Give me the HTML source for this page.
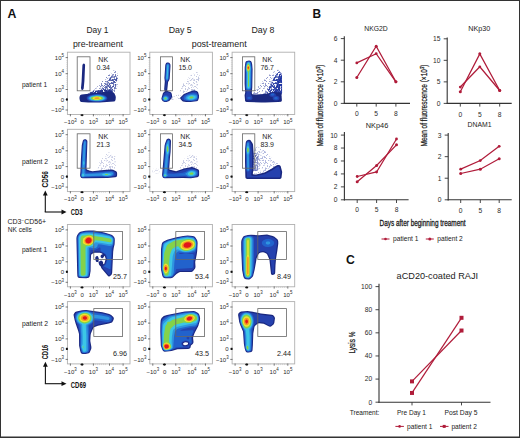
<!DOCTYPE html><html><head><meta charset="utf-8"><style>html,body{margin:0;padding:0;background:#fff}svg{display:block}text{font-family:"Liberation Sans",sans-serif}</style></head><body>
<svg width="520" height="438" viewBox="0 0 520 438">
<defs><filter id="bl" x="-20%" y="-20%" width="140%" height="140%"><feGaussianBlur stdDeviation="0.45"/></filter>
<filter id="spkA" x="0" y="0" width="100%" height="100%" filterUnits="userSpaceOnUse"><feTurbulence type="fractalNoise" baseFrequency="0.6" numOctaves="2" seed="3" result="n"/><feColorMatrix in="n" type="matrix" values="0 0 0 0 0  0 0 0 0 0  0 0 0 0 0  0 0 0 10 -5.2" result="m"/><feComposite in="SourceGraphic" in2="m" operator="in"/></filter>
<filter id="spkB" x="0" y="0" width="100%" height="100%" filterUnits="userSpaceOnUse"><feTurbulence type="fractalNoise" baseFrequency="0.6" numOctaves="2" seed="5" result="n"/><feColorMatrix in="n" type="matrix" values="0 0 0 0 0  0 0 0 0 0  0 0 0 0 0  0 0 0 10 -4.3" result="m"/><feComposite in="SourceGraphic" in2="m" operator="in"/></filter>
<filter id="spkC" x="0" y="0" width="100%" height="100%" filterUnits="userSpaceOnUse"><feTurbulence type="fractalNoise" baseFrequency="0.6" numOctaves="2" seed="7" result="n"/><feColorMatrix in="n" type="matrix" values="0 0 0 0 0  0 0 0 0 0  0 0 0 0 0  0 0 0 10 -3.2" result="m"/><feComposite in="SourceGraphic" in2="m" operator="in"/></filter>
</defs>
<rect x="0" y="0" width="520" height="438" fill="#fff"/>
<rect x="0.5" y="0.5" width="519" height="437" fill="none" stroke="#333" stroke-width="1"/>
<rect x="0" y="436.5" width="520" height="1.5" fill="#333"/>
<text x="7.4" y="18.1" font-size="12.6" text-anchor="start" font-weight="bold" fill="#111" textLength="8.9" lengthAdjust="spacingAndGlyphs" >A</text>
<text x="312.6" y="18.2" font-size="12.8" text-anchor="start" font-weight="bold" fill="#111" textLength="8.6" lengthAdjust="spacingAndGlyphs" >B</text>
<text x="346.1" y="263.9" font-size="12.4" text-anchor="start" font-weight="bold" fill="#111" textLength="8.8" lengthAdjust="spacingAndGlyphs" >C</text>
<text x="97.5" y="33" font-size="8.6" text-anchor="middle" font-weight="normal" fill="#222" textLength="22" lengthAdjust="spacingAndGlyphs" >Day 1</text>
<text x="180.2" y="33" font-size="8.6" text-anchor="middle" font-weight="normal" fill="#222" textLength="23" lengthAdjust="spacingAndGlyphs" >Day 5</text>
<text x="263" y="33" font-size="8.6" text-anchor="middle" font-weight="normal" fill="#222" textLength="23" lengthAdjust="spacingAndGlyphs" >Day 8</text>
<text x="98" y="47.4" font-size="8.6" text-anchor="middle" font-weight="normal" fill="#222" textLength="50" lengthAdjust="spacingAndGlyphs" >pre-treament</text>
<text x="219.2" y="47.4" font-size="8.6" text-anchor="middle" font-weight="normal" fill="#222" textLength="55" lengthAdjust="spacingAndGlyphs" >post-treament</text>
<text x="22" y="86.8" font-size="6.6" text-anchor="start" font-weight="normal" fill="#222" textLength="25" lengthAdjust="spacingAndGlyphs" >patient 1</text>
<text x="22" y="163.8" font-size="6.6" text-anchor="start" font-weight="normal" fill="#222" textLength="26" lengthAdjust="spacingAndGlyphs" >patient 2</text>
<text x="22" y="252.2" font-size="6.6" text-anchor="start" font-weight="normal" fill="#222" textLength="25" lengthAdjust="spacingAndGlyphs" >patient 1</text>
<text x="22" y="326" font-size="6.6" text-anchor="start" font-weight="normal" fill="#222" textLength="26" lengthAdjust="spacingAndGlyphs" >patient 2</text>
<text x="7.5" y="224.3" font-size="7" fill="#222">CD3<tspan font-size="4.5" dy="-2.5">−</tspan><tspan dy="2.5">CD56+</tspan></text>
<text x="7.8" y="232.4" font-size="7" text-anchor="start" font-weight="normal" fill="#222" textLength="24" lengthAdjust="spacingAndGlyphs" >NK cells</text>
<line x1="45.3" y1="194.5" x2="45.3" y2="212" stroke="#111" stroke-width="1.1"/>
<line x1="44.75" y1="212" x2="62.5" y2="212" stroke="#111" stroke-width="1.1"/>
<path d="M45.3,190.5 L42.9,195.5 L47.699999999999996,195.5 Z" fill="#111"/>
<path d="M66.5,212 L61.5,209.6 L61.5,214.4 Z" fill="#111"/>
<text transform="translate(47.7,179.3) rotate(-90)" x="0" y="0" font-size="8.6" font-weight="bold" fill="#111" text-anchor="middle" textLength="16.4" lengthAdjust="spacingAndGlyphs">CD56</text>
<text x="70.8" y="214.8" font-size="8.6" font-weight="bold" fill="#111" textLength="11.8" lengthAdjust="spacingAndGlyphs">CD3</text>
<line x1="45.4" y1="365.8" x2="45.4" y2="383.7" stroke="#111" stroke-width="1.1"/>
<line x1="44.85" y1="383.7" x2="62.5" y2="383.7" stroke="#111" stroke-width="1.1"/>
<path d="M45.4,361.8 L43.0,366.8 L47.8,366.8 Z" fill="#111"/>
<path d="M66.5,383.7 L61.5,381.3 L61.5,386.09999999999997 Z" fill="#111"/>
<text transform="translate(48.0,352) rotate(-90)" x="0" y="0" font-size="8.6" font-weight="bold" fill="#111" text-anchor="middle" textLength="14.6" lengthAdjust="spacingAndGlyphs">CD16</text>
<text x="70.8" y="387.5" font-size="8.6" font-weight="bold" fill="#111" textLength="15.2" lengthAdjust="spacingAndGlyphs">CD69</text>
<g transform="translate(68,53)">
<g opacity="0.6" filter="url(#spkA)"><path fill-rule="evenodd" fill="#2a3a98" d="M35.5,41.0 25.2,41.0 24.1,40.6 23.8,39.6 24.2,38.8 30.1,32.8 38.2,23.8 43.5,18.5 44.6,17.8 45.6,17.5 46.8,17.7 48.2,18.3 49.5,19.4 50.0,20.8 50.1,30.4 49.6,33.1 47.6,38.4 46.6,39.5 45.2,40.2 35.5,41.0Z"/></g>
<g opacity="0.7" filter="url(#spkB)"><path fill-rule="evenodd" fill="#2a3a98" d="M41.6,40.0 32.8,40.0 31.8,39.5 31.5,38.4 31.7,37.8 42.4,23.8 45.2,21.3 46.1,20.9 46.9,21.0 47.7,21.4 48.4,22.2 49.3,24.6 48.2,33.8 47.2,35.7 44.8,38.3 43.2,39.5 41.6,40.0Z"/></g>
<g opacity="0.9" filter="url(#spkC)"><path fill-rule="evenodd" fill="#1e2c8c" d="M22.0,42.6 20.4,42.7 19.8,42.4 19.5,41.8 19.8,41.0 22.9,38.7 25.4,37.8 34.0,37.0 42.0,36.9 43.9,37.5 44.5,38.0 44.8,38.6 44.8,39.2 44.4,39.8 43.1,40.4 22.0,42.6Z"/></g>
<path fill-rule="evenodd" fill="#1a2880" d="M14.5,37.0 13.9,37.0 13.4,36.6 13.0,35.1 13.6,28.5 14.4,12.2 14.9,10.9 15.9,10.5 16.7,11.0 17.1,12.1 16.4,28.1 15.7,35.5 15.2,36.5 14.5,37.0ZM31.8,49.4 20.2,49.4 13.2,48.9 12.3,48.4 11.8,47.2 11.4,45.1 11.7,43.2 12.4,42.0 13.8,41.4 41.0,38.4 42.5,38.5 44.9,39.2 45.9,39.7 46.5,40.4 47.6,43.1 47.8,44.4 47.5,47.0 46.8,48.2 45.8,48.5 31.8,49.4Z"/>
<path fill-rule="evenodd" fill="#2541ae" d="M31.1,48.8 24.6,48.6 20.5,47.8 19.5,47.0 18.9,46.2 18.7,45.4 18.8,44.4 19.8,43.2 21.7,42.1 25.1,41.4 29.2,41.1 32.2,41.2 35.4,41.8 37.5,42.7 38.9,43.9 39.3,44.9 39.2,45.9 38.8,46.6 38.0,47.4 35.4,48.2 31.1,48.8Z"/>
<path fill-rule="evenodd" fill="#2262cc" d="M29.4,48.5 25.1,48.3 22.1,47.7 20.9,47.0 20.0,46.2 19.6,45.5 19.7,44.6 20.8,43.5 22.9,42.5 25.9,41.8 29.0,41.6 32.1,41.8 35.1,42.5 37.2,43.5 38.3,44.6 38.4,45.4 38.1,46.1 37.4,46.8 36.2,47.5 33.5,48.2 29.4,48.5Z"/>
<path fill-rule="evenodd" fill="#2f95e0" d="M31.1,48.0 27.0,48.0 23.5,47.5 21.1,46.2 20.6,45.6 20.6,44.9 21.4,43.9 23.2,43.0 25.8,42.4 28.6,42.2 31.5,42.3 34.1,42.8 36.2,43.6 37.3,44.6 37.5,45.1 37.3,45.8 36.1,46.8 34.2,47.5 31.1,48.0Z"/>
<path fill-rule="evenodd" fill="#3cc6e6" d="M30.8,47.6 27.2,47.6 24.2,47.1 22.0,46.1 21.6,45.6 21.5,45.0 22.2,44.1 23.9,43.4 26.1,42.9 28.6,42.7 31.2,42.8 33.6,43.2 35.3,43.9 36.4,44.8 36.4,45.6 35.2,46.6 33.3,47.2 30.8,47.6Z"/>
<path fill-rule="evenodd" fill="#84d24a" d="M29.8,47.3 27.0,47.2 24.6,46.7 23.2,45.9 22.9,45.0 23.5,44.2 24.8,43.7 28.8,43.1 31.0,43.2 33.0,43.6 34.3,44.1 35.1,44.9 35.0,45.8 33.9,46.5 32.1,47.0 29.8,47.3Z"/>
<path fill-rule="evenodd" fill="#f0e42c" d="M29.8,46.8 27.8,46.7 26.0,46.4 24.8,45.8 24.6,45.0 25.0,44.5 26.1,44.0 28.9,43.6 31.8,44.0 32.8,44.4 33.4,44.9 33.4,45.5 32.6,46.1 29.8,46.8Z"/>
<path fill-rule="evenodd" fill="#f49a22" d="M30.1,46.1 27.5,46.1 26.5,45.6 26.3,45.1 27.0,44.5 28.8,44.2 30.5,44.3 31.6,44.9 31.7,45.2 31.5,45.6 30.1,46.1Z"/>
</g>
<rect x="67.4" y="52.2" width="62.6" height="62.3" fill="none" stroke="#b0b0b0" stroke-width="0.9"/>
<line x1="65.60000000000001" y1="57.6" x2="67.80000000000001" y2="57.6" stroke="#555" stroke-width="0.8"/>
<text x="64.0" y="59.7" font-size="6.0" text-anchor="end" fill="#2a2a2a">10<tspan font-size="4.4399999999999995" dy="-2.5">5</tspan></text>
<line x1="65.60000000000001" y1="73.7" x2="67.80000000000001" y2="73.7" stroke="#555" stroke-width="0.8"/>
<text x="64.0" y="75.8" font-size="6.0" text-anchor="end" fill="#2a2a2a">10<tspan font-size="4.4399999999999995" dy="-2.5">4</tspan></text>
<line x1="65.60000000000001" y1="89.5" x2="67.80000000000001" y2="89.5" stroke="#555" stroke-width="0.8"/>
<text x="64.0" y="91.6" font-size="6.0" text-anchor="end" fill="#2a2a2a">10<tspan font-size="4.4399999999999995" dy="-2.5">3</tspan></text>
<line x1="65.60000000000001" y1="99.5" x2="67.80000000000001" y2="99.5" stroke="#555" stroke-width="0.8"/>
<text x="64.0" y="101.6" font-size="6.0" text-anchor="end" font-weight="normal" fill="#2a2a2a" >0</text>
<line x1="65.60000000000001" y1="110.0" x2="67.80000000000001" y2="110.0" stroke="#555" stroke-width="0.8"/>
<text x="64.0" y="112.1" font-size="6.0" text-anchor="end" fill="#2a2a2a">−10<tspan font-size="4.4399999999999995" dy="-2.5">3</tspan></text>
<line x1="66.2" y1="60.7" x2="67.80000000000001" y2="60.7" stroke="#bbb" stroke-width="0.5"/>
<line x1="66.2" y1="62.7" x2="67.80000000000001" y2="62.7" stroke="#bbb" stroke-width="0.5"/>
<line x1="66.2" y1="64.7" x2="67.80000000000001" y2="64.7" stroke="#bbb" stroke-width="0.5"/>
<line x1="66.2" y1="66.7" x2="67.80000000000001" y2="66.7" stroke="#bbb" stroke-width="0.5"/>
<line x1="66.2" y1="68.7" x2="67.80000000000001" y2="68.7" stroke="#bbb" stroke-width="0.5"/>
<line x1="66.2" y1="70.7" x2="67.80000000000001" y2="70.7" stroke="#bbb" stroke-width="0.5"/>
<line x1="66.2" y1="76.7" x2="67.80000000000001" y2="76.7" stroke="#bbb" stroke-width="0.5"/>
<line x1="66.2" y1="78.7" x2="67.80000000000001" y2="78.7" stroke="#bbb" stroke-width="0.5"/>
<line x1="66.2" y1="80.7" x2="67.80000000000001" y2="80.7" stroke="#bbb" stroke-width="0.5"/>
<line x1="66.2" y1="82.7" x2="67.80000000000001" y2="82.7" stroke="#bbb" stroke-width="0.5"/>
<line x1="66.2" y1="84.7" x2="67.80000000000001" y2="84.7" stroke="#bbb" stroke-width="0.5"/>
<line x1="66.2" y1="86.7" x2="67.80000000000001" y2="86.7" stroke="#bbb" stroke-width="0.5"/>
<line x1="70.4" y1="114.1" x2="70.4" y2="116.3" stroke="#555" stroke-width="0.8"/>
<text x="70.4" y="124.2" font-size="6.0" text-anchor="middle" fill="#2a2a2a">−10<tspan font-size="4.4399999999999995" dy="-2.5">3</tspan></text>
<line x1="82.2" y1="114.1" x2="82.2" y2="116.3" stroke="#555" stroke-width="0.8"/>
<text x="82.2" y="124.2" font-size="6.0" text-anchor="middle" font-weight="normal" fill="#2a2a2a" >0</text>
<line x1="93.4" y1="114.1" x2="93.4" y2="116.3" stroke="#555" stroke-width="0.8"/>
<text x="93.4" y="124.2" font-size="6.0" text-anchor="middle" fill="#2a2a2a">10<tspan font-size="4.4399999999999995" dy="-2.5">3</tspan></text>
<line x1="109.5" y1="114.1" x2="109.5" y2="116.3" stroke="#555" stroke-width="0.8"/>
<text x="109.5" y="124.2" font-size="6.0" text-anchor="middle" fill="#2a2a2a">10<tspan font-size="4.4399999999999995" dy="-2.5">4</tspan></text>
<line x1="123.10000000000001" y1="114.1" x2="123.10000000000001" y2="116.3" stroke="#555" stroke-width="0.8"/>
<text x="123.10000000000001" y="124.2" font-size="6.0" text-anchor="middle" fill="#2a2a2a">10<tspan font-size="4.4399999999999995" dy="-2.5">5</tspan></text>
<line x1="95.4" y1="114.1" x2="95.4" y2="115.7" stroke="#bbb" stroke-width="0.5"/>
<line x1="97.4" y1="114.1" x2="97.4" y2="115.7" stroke="#bbb" stroke-width="0.5"/>
<line x1="99.4" y1="114.1" x2="99.4" y2="115.7" stroke="#bbb" stroke-width="0.5"/>
<line x1="101.4" y1="114.1" x2="101.4" y2="115.7" stroke="#bbb" stroke-width="0.5"/>
<line x1="103.4" y1="114.1" x2="103.4" y2="115.7" stroke="#bbb" stroke-width="0.5"/>
<line x1="105.4" y1="114.1" x2="105.4" y2="115.7" stroke="#bbb" stroke-width="0.5"/>
<line x1="111.9" y1="114.1" x2="111.9" y2="115.7" stroke="#bbb" stroke-width="0.5"/>
<line x1="113.9" y1="114.1" x2="113.9" y2="115.7" stroke="#bbb" stroke-width="0.5"/>
<line x1="115.9" y1="114.1" x2="115.9" y2="115.7" stroke="#bbb" stroke-width="0.5"/>
<line x1="117.9" y1="114.1" x2="117.9" y2="115.7" stroke="#bbb" stroke-width="0.5"/>
<line x1="119.9" y1="114.1" x2="119.9" y2="115.7" stroke="#bbb" stroke-width="0.5"/>
<line x1="121.9" y1="114.1" x2="121.9" y2="115.7" stroke="#bbb" stroke-width="0.5"/>
<rect x="66.0" y="98.4" width="1.8" height="2.2" fill="#111"/>
<ellipse cx="82.0" cy="115.1" rx="1.6" ry="0.9" fill="#111"/>
<g transform="translate(150,53)">
<g opacity="0.6" filter="url(#spkA)"><path fill-rule="evenodd" fill="#9aa2cc" d="M40.8,40.0 30.5,40.0 29.4,39.4 29.1,38.1 33.0,31.1 39.0,24.1 41.0,22.3 45.1,19.3 46.1,18.9 47.1,18.9 48.0,19.5 48.9,20.5 49.6,21.8 49.8,22.9 48.2,34.6 47.4,36.1 46.0,37.4 42.9,39.4 40.8,40.0Z"/></g>
<g opacity="0.6" filter="url(#spkA)"><path fill-rule="evenodd" fill="#a0a8d0" d="M30.0,47.0 22.2,47.1 21.5,46.9 20.6,46.3 20.1,45.5 19.9,44.2 20.2,43.2 20.6,42.5 21.4,41.9 24.1,41.3 26.9,41.1 30.2,41.7 31.6,42.8 32.0,43.8 32.1,44.8 31.5,46.2 30.0,47.0Z"/></g>
<path fill-rule="evenodd" fill="#1a2880" d="M16.4,49.0 14.6,49.0 12.9,48.3 11.8,47.0 11.4,45.4 12.9,40.2 13.4,39.6 14.8,38.4 14.3,37.1 14.2,36.1 14.8,28.4 14.4,25.0 15.3,11.9 15.6,10.9 16.2,10.1 17.0,9.6 18.0,9.5 19.1,9.8 19.9,10.5 20.4,11.5 20.5,12.9 19.7,25.6 19.3,27.1 18.1,29.0 17.2,37.5 17.6,38.0 20.4,39.1 21.3,39.8 21.8,41.0 22.1,43.5 21.6,44.9 19.8,47.4 18.6,48.2 16.4,49.0ZM40.4,49.1 36.1,48.9 32.9,48.4 32.0,47.8 30.5,46.0 30.3,45.2 30.4,44.4 33.9,40.9 39.4,38.7 43.9,37.2 45.1,37.4 47.2,38.3 48.2,39.4 49.1,42.8 48.9,45.0 48.1,47.2 47.5,47.9 46.5,48.3 40.4,49.1Z"/>
<path fill-rule="evenodd" fill="#2541ae" d="M16.0,36.8 15.5,36.7 15.4,36.1 16.0,28.6 15.1,25.5 15.9,13.0 16.1,11.8 16.5,10.9 17.1,10.4 18.0,10.2 19.2,10.9 19.8,12.2 19.1,24.1 18.7,26.6 16.9,28.9 16.3,36.0 16.0,36.8ZM41.6,48.3 38.4,48.3 33.5,47.5 32.7,47.0 31.8,45.9 31.4,45.2 31.5,44.8 34.2,41.9 38.0,40.3 43.6,38.4 44.6,38.4 46.4,39.0 47.2,39.9 48.2,42.8 48.2,44.4 47.6,46.4 47.1,47.0 46.4,47.4 41.6,48.3ZM16.2,48.4 14.8,48.4 13.3,47.8 12.4,46.6 12.1,45.2 14.0,40.5 14.6,39.9 15.9,39.4 17.2,39.1 19.8,39.9 20.4,40.4 20.7,41.1 21.0,43.5 20.6,44.5 19.0,46.9 17.9,47.7 16.2,48.4Z"/>
<path fill-rule="evenodd" fill="#2262cc" d="M17.0,27.7 16.4,27.6 15.8,26.9 15.5,26.0 15.5,24.9 16.3,12.2 16.9,11.0 18.0,10.6 19.0,11.1 19.4,12.1 19.2,17.6 18.5,25.9 18.0,27.0 17.0,27.7ZM41.5,47.9 37.6,47.8 35.9,47.5 34.3,46.9 33.7,45.6 33.9,44.0 34.8,42.9 35.8,42.1 39.9,40.4 43.4,40.0 46.5,40.6 47.5,42.0 47.8,43.2 47.6,44.9 47.0,46.4 46.4,46.9 45.5,47.2 41.5,47.9ZM15.8,48.1 14.6,48.0 13.6,47.6 12.9,46.8 12.5,45.9 12.5,44.9 13.1,43.7 14.1,42.5 14.9,42.2 16.2,42.2 17.6,42.7 18.7,43.6 19.2,44.8 19.0,46.0 18.4,46.9 17.0,47.8 15.8,48.1Z"/>
<path fill-rule="evenodd" fill="#2f95e0" d="M17.2,26.8 16.8,26.8 16.2,26.4 16.0,25.0 16.8,12.6 17.1,11.6 17.9,11.2 18.7,11.8 18.9,13.0 18.1,25.2 17.8,26.2 17.2,26.8ZM41.9,47.3 39.2,47.3 36.8,46.8 35.5,45.8 35.4,45.1 35.6,44.4 36.2,43.5 37.4,42.6 40.5,41.5 44.0,41.4 45.5,41.7 46.5,42.3 47.0,43.0 47.1,43.9 46.9,44.9 46.4,45.7 44.8,46.6 41.9,47.3ZM16.0,47.6 14.2,47.4 13.5,46.8 13.1,46.1 13.0,45.4 13.2,44.5 13.8,43.8 14.5,43.3 15.6,43.1 16.6,43.3 17.6,44.0 18.1,44.9 18.2,45.8 17.9,46.5 17.0,47.2 16.0,47.6Z"/>
<path fill-rule="evenodd" fill="#3cc6e6" d="M17.1,25.7 16.8,25.4 16.7,24.5 17.5,13.1 17.6,12.5 17.9,12.3 18.2,13.0 17.9,18.7 17.4,24.9 17.1,25.7ZM41.2,46.6 39.2,46.5 37.8,46.0 37.2,45.1 37.5,44.1 39.1,42.9 41.5,42.3 43.9,42.4 45.5,43.2 45.8,44.3 45.0,45.4 43.4,46.2 41.2,46.6ZM16.0,47.1 14.6,47.0 13.7,46.1 13.6,45.0 14.5,44.0 16.1,43.9 16.9,44.2 17.4,44.9 17.5,45.6 17.3,46.2 16.8,46.8 16.0,47.1Z"/>
<path fill-rule="evenodd" fill="#84d24a" d="M41.4,45.6 40.4,45.5 39.8,45.2 39.5,44.8 39.8,44.1 40.5,43.6 41.6,43.4 42.6,43.5 43.3,43.9 43.5,44.4 43.1,45.0 41.4,45.6ZM15.6,46.5 14.8,46.3 14.4,45.6 14.6,44.9 15.2,44.5 16.1,44.6 16.6,45.4 16.4,46.1 15.6,46.5Z"/>
</g>
<rect x="149.8" y="52.2" width="62.6" height="62.3" fill="none" stroke="#b0b0b0" stroke-width="0.9"/>
<line x1="148.0" y1="57.6" x2="150.20000000000002" y2="57.6" stroke="#555" stroke-width="0.8"/>
<text x="146.4" y="59.7" font-size="6.0" text-anchor="end" fill="#2a2a2a">10<tspan font-size="4.4399999999999995" dy="-2.5">5</tspan></text>
<line x1="148.0" y1="73.7" x2="150.20000000000002" y2="73.7" stroke="#555" stroke-width="0.8"/>
<text x="146.4" y="75.8" font-size="6.0" text-anchor="end" fill="#2a2a2a">10<tspan font-size="4.4399999999999995" dy="-2.5">4</tspan></text>
<line x1="148.0" y1="89.5" x2="150.20000000000002" y2="89.5" stroke="#555" stroke-width="0.8"/>
<text x="146.4" y="91.6" font-size="6.0" text-anchor="end" fill="#2a2a2a">10<tspan font-size="4.4399999999999995" dy="-2.5">3</tspan></text>
<line x1="148.0" y1="99.5" x2="150.20000000000002" y2="99.5" stroke="#555" stroke-width="0.8"/>
<text x="146.4" y="101.6" font-size="6.0" text-anchor="end" font-weight="normal" fill="#2a2a2a" >0</text>
<line x1="148.0" y1="110.0" x2="150.20000000000002" y2="110.0" stroke="#555" stroke-width="0.8"/>
<text x="146.4" y="112.1" font-size="6.0" text-anchor="end" fill="#2a2a2a">−10<tspan font-size="4.4399999999999995" dy="-2.5">3</tspan></text>
<line x1="148.60000000000002" y1="60.7" x2="150.20000000000002" y2="60.7" stroke="#bbb" stroke-width="0.5"/>
<line x1="148.60000000000002" y1="62.7" x2="150.20000000000002" y2="62.7" stroke="#bbb" stroke-width="0.5"/>
<line x1="148.60000000000002" y1="64.7" x2="150.20000000000002" y2="64.7" stroke="#bbb" stroke-width="0.5"/>
<line x1="148.60000000000002" y1="66.7" x2="150.20000000000002" y2="66.7" stroke="#bbb" stroke-width="0.5"/>
<line x1="148.60000000000002" y1="68.7" x2="150.20000000000002" y2="68.7" stroke="#bbb" stroke-width="0.5"/>
<line x1="148.60000000000002" y1="70.7" x2="150.20000000000002" y2="70.7" stroke="#bbb" stroke-width="0.5"/>
<line x1="148.60000000000002" y1="76.7" x2="150.20000000000002" y2="76.7" stroke="#bbb" stroke-width="0.5"/>
<line x1="148.60000000000002" y1="78.7" x2="150.20000000000002" y2="78.7" stroke="#bbb" stroke-width="0.5"/>
<line x1="148.60000000000002" y1="80.7" x2="150.20000000000002" y2="80.7" stroke="#bbb" stroke-width="0.5"/>
<line x1="148.60000000000002" y1="82.7" x2="150.20000000000002" y2="82.7" stroke="#bbb" stroke-width="0.5"/>
<line x1="148.60000000000002" y1="84.7" x2="150.20000000000002" y2="84.7" stroke="#bbb" stroke-width="0.5"/>
<line x1="148.60000000000002" y1="86.7" x2="150.20000000000002" y2="86.7" stroke="#bbb" stroke-width="0.5"/>
<line x1="152.8" y1="114.1" x2="152.8" y2="116.3" stroke="#555" stroke-width="0.8"/>
<text x="152.8" y="124.2" font-size="6.0" text-anchor="middle" fill="#2a2a2a">−10<tspan font-size="4.4399999999999995" dy="-2.5">3</tspan></text>
<line x1="164.60000000000002" y1="114.1" x2="164.60000000000002" y2="116.3" stroke="#555" stroke-width="0.8"/>
<text x="164.60000000000002" y="124.2" font-size="6.0" text-anchor="middle" font-weight="normal" fill="#2a2a2a" >0</text>
<line x1="175.8" y1="114.1" x2="175.8" y2="116.3" stroke="#555" stroke-width="0.8"/>
<text x="175.8" y="124.2" font-size="6.0" text-anchor="middle" fill="#2a2a2a">10<tspan font-size="4.4399999999999995" dy="-2.5">3</tspan></text>
<line x1="191.9" y1="114.1" x2="191.9" y2="116.3" stroke="#555" stroke-width="0.8"/>
<text x="191.9" y="124.2" font-size="6.0" text-anchor="middle" fill="#2a2a2a">10<tspan font-size="4.4399999999999995" dy="-2.5">4</tspan></text>
<line x1="205.5" y1="114.1" x2="205.5" y2="116.3" stroke="#555" stroke-width="0.8"/>
<text x="205.5" y="124.2" font-size="6.0" text-anchor="middle" fill="#2a2a2a">10<tspan font-size="4.4399999999999995" dy="-2.5">5</tspan></text>
<line x1="177.8" y1="114.1" x2="177.8" y2="115.7" stroke="#bbb" stroke-width="0.5"/>
<line x1="179.8" y1="114.1" x2="179.8" y2="115.7" stroke="#bbb" stroke-width="0.5"/>
<line x1="181.8" y1="114.1" x2="181.8" y2="115.7" stroke="#bbb" stroke-width="0.5"/>
<line x1="183.8" y1="114.1" x2="183.8" y2="115.7" stroke="#bbb" stroke-width="0.5"/>
<line x1="185.8" y1="114.1" x2="185.8" y2="115.7" stroke="#bbb" stroke-width="0.5"/>
<line x1="187.8" y1="114.1" x2="187.8" y2="115.7" stroke="#bbb" stroke-width="0.5"/>
<line x1="194.3" y1="114.1" x2="194.3" y2="115.7" stroke="#bbb" stroke-width="0.5"/>
<line x1="196.3" y1="114.1" x2="196.3" y2="115.7" stroke="#bbb" stroke-width="0.5"/>
<line x1="198.3" y1="114.1" x2="198.3" y2="115.7" stroke="#bbb" stroke-width="0.5"/>
<line x1="200.3" y1="114.1" x2="200.3" y2="115.7" stroke="#bbb" stroke-width="0.5"/>
<line x1="202.3" y1="114.1" x2="202.3" y2="115.7" stroke="#bbb" stroke-width="0.5"/>
<line x1="204.3" y1="114.1" x2="204.3" y2="115.7" stroke="#bbb" stroke-width="0.5"/>
<rect x="148.4" y="98.4" width="1.8" height="2.2" fill="#111"/>
<ellipse cx="164.4" cy="115.1" rx="1.6" ry="0.9" fill="#111"/>
<g transform="translate(232,53)">
<g opacity="0.55" filter="url(#spkA)"><path fill-rule="evenodd" fill="#3a4aa8" d="M40.0,45.0 21.9,44.2 20.5,43.6 20.2,42.4 20.3,41.8 22.7,38.0 24.9,34.9 30.1,28.9 36.4,22.5 38.1,21.0 40.0,19.8 45.0,17.1 46.5,16.8 47.4,17.3 48.1,18.2 49.5,21.0 50.0,22.8 50.0,42.2 49.3,43.5 48.0,44.2 40.0,45.0Z"/></g>
<g opacity="0.85" filter="url(#spkB)"><path fill-rule="evenodd" fill="#1e32a0" d="M41.9,42.9 39.2,42.9 35.2,42.3 34.1,41.5 33.9,40.9 33.9,40.0 42.0,24.1 45.5,19.8 46.6,19.1 47.8,19.1 49.3,20.1 50.0,21.9 50.0,40.2 49.4,41.5 48.2,42.2 41.9,42.9Z"/></g>
<g opacity="0.85" filter="url(#spkC)"><path fill-rule="evenodd" fill="#1e32a0" d="M48.0,42.0 44.6,42.1 43.6,41.8 42.7,41.0 42.5,39.8 44.9,30.2 47.1,22.6 47.8,21.5 48.8,21.1 49.6,21.6 50.0,22.9 50.1,39.8 49.5,41.2 48.0,42.0Z"/></g>
<path fill-rule="evenodd" fill="#1a2880" d="M33.4,49.4 29.2,49.5 14.8,49.0 13.8,48.7 13.1,48.0 12.6,42.2 13.2,39.6 12.6,30.8 12.7,14.2 13.4,9.5 13.9,8.5 14.8,7.9 17.1,7.5 18.8,7.9 19.6,9.0 20.2,11.5 20.6,16.2 20.3,33.9 19.8,40.0 20.1,40.9 20.5,41.2 24.1,41.5 32.0,41.1 36.5,40.2 39.6,39.3 42.1,39.0 47.9,39.4 48.8,39.8 49.4,40.5 49.9,47.2 49.7,48.1 49.1,48.8 46.2,49.1 33.4,49.4Z"/>
<path fill-rule="evenodd" fill="#2541ae" d="M18.0,47.3 16.6,47.3 15.1,47.0 14.6,46.8 14.2,46.0 13.9,42.2 14.4,40.1 14.3,38.0 13.5,33.8 13.4,13.2 14.0,10.2 14.4,9.2 15.2,8.5 16.8,8.2 18.1,8.5 18.9,9.4 19.8,15.0 19.5,33.9 18.7,37.9 18.5,40.2 18.9,41.8 19.9,43.0 20.5,45.1 20.3,45.9 19.8,46.5 18.0,47.3ZM45.1,47.5 42.7,47.5 41.5,47.1 40.7,46.0 40.7,44.1 38.9,43.7 38.0,43.2 37.3,42.2 37.5,41.6 38.7,40.5 40.2,40.0 42.1,40.1 43.7,40.9 43.8,42.5 46.2,43.2 47.0,43.8 47.4,44.5 47.4,45.6 47.1,46.5 46.2,47.2 45.1,47.5Z"/>
<path fill-rule="evenodd" fill="#2262cc" d="M16.5,37.4 14.9,36.9 14.2,35.9 13.9,34.6 13.9,19.2 13.6,14.8 13.8,12.6 14.6,9.6 15.5,8.8 16.9,8.5 17.8,8.7 18.3,9.1 19.0,11.0 19.4,15.0 19.4,24.8 19.0,35.0 18.6,36.1 18.0,37.0 16.5,37.4ZM40.6,42.8 39.8,42.6 39.1,42.3 38.8,41.8 38.8,41.2 39.4,40.8 40.2,40.5 41.1,40.5 41.9,40.8 42.3,41.4 42.1,42.0 41.5,42.5 40.6,42.8ZM17.6,46.0 16.6,46.1 15.7,45.8 15.2,45.1 15.3,44.4 16.6,43.7 17.6,43.8 18.2,44.1 18.7,44.6 18.7,45.2 18.3,45.8 17.6,46.0ZM44.6,46.5 43.4,46.5 42.4,46.0 42.1,45.1 42.4,44.4 43.1,44.0 44.0,43.8 44.9,44.0 45.6,44.4 45.9,45.0 45.8,45.6 45.4,46.2 44.6,46.5Z"/>
<path fill-rule="evenodd" fill="#2f95e0" d="M17.0,36.3 16.0,36.3 15.2,35.9 14.8,35.3 14.5,34.4 14.5,19.6 13.9,15.0 14.1,12.9 15.0,10.0 15.6,9.3 16.8,9.0 17.7,9.2 18.2,10.0 19.0,15.1 18.6,34.0 18.1,35.5 17.0,36.3Z"/>
<path fill-rule="evenodd" fill="#3cc6e6" d="M16.8,35.4 15.6,35.1 15.1,33.9 15.1,19.8 14.4,16.8 14.2,14.9 14.5,12.9 15.3,10.5 15.9,9.8 16.6,9.5 17.4,9.8 17.7,10.4 18.5,15.0 18.1,18.9 17.9,33.6 17.6,34.9 16.8,35.4Z"/>
<path fill-rule="evenodd" fill="#84d24a" d="M16.5,33.9 16.1,33.5 16.0,32.9 16.1,19.8 14.9,17.1 14.6,14.9 15.1,12.2 15.9,10.8 16.5,10.4 17.0,10.8 17.6,12.2 18.1,14.9 17.9,16.5 17.1,19.4 17.0,33.0 16.8,33.6 16.5,33.9Z"/>
<path fill-rule="evenodd" fill="#f0e42c" d="M16.6,17.6 16.0,17.7 15.5,17.3 14.9,15.2 15.2,12.9 15.8,12.1 16.2,11.9 16.8,12.1 17.2,12.7 17.7,14.5 17.5,16.4 16.6,17.6Z"/>
<path fill-rule="evenodd" fill="#f49a22" d="M16.2,16.9 15.5,16.3 15.2,14.9 15.5,13.3 16.2,12.7 17.0,13.3 17.3,14.8 17.0,16.2 16.2,16.9Z"/>
<path fill-rule="evenodd" fill="#e3161a" d="M16.4,15.8 15.9,15.6 15.7,14.9 15.9,14.0 16.2,13.8 16.6,14.1 16.8,14.6 16.7,15.4 16.4,15.8Z"/>
</g>
<rect x="232.1" y="52.2" width="62.6" height="62.3" fill="none" stroke="#b0b0b0" stroke-width="0.9"/>
<line x1="230.29999999999998" y1="57.6" x2="232.5" y2="57.6" stroke="#555" stroke-width="0.8"/>
<text x="228.7" y="59.7" font-size="6.0" text-anchor="end" fill="#2a2a2a">10<tspan font-size="4.4399999999999995" dy="-2.5">5</tspan></text>
<line x1="230.29999999999998" y1="73.7" x2="232.5" y2="73.7" stroke="#555" stroke-width="0.8"/>
<text x="228.7" y="75.8" font-size="6.0" text-anchor="end" fill="#2a2a2a">10<tspan font-size="4.4399999999999995" dy="-2.5">4</tspan></text>
<line x1="230.29999999999998" y1="89.5" x2="232.5" y2="89.5" stroke="#555" stroke-width="0.8"/>
<text x="228.7" y="91.6" font-size="6.0" text-anchor="end" fill="#2a2a2a">10<tspan font-size="4.4399999999999995" dy="-2.5">3</tspan></text>
<line x1="230.29999999999998" y1="99.5" x2="232.5" y2="99.5" stroke="#555" stroke-width="0.8"/>
<text x="228.7" y="101.6" font-size="6.0" text-anchor="end" font-weight="normal" fill="#2a2a2a" >0</text>
<line x1="230.29999999999998" y1="110.0" x2="232.5" y2="110.0" stroke="#555" stroke-width="0.8"/>
<text x="228.7" y="112.1" font-size="6.0" text-anchor="end" fill="#2a2a2a">−10<tspan font-size="4.4399999999999995" dy="-2.5">3</tspan></text>
<line x1="230.9" y1="60.7" x2="232.5" y2="60.7" stroke="#bbb" stroke-width="0.5"/>
<line x1="230.9" y1="62.7" x2="232.5" y2="62.7" stroke="#bbb" stroke-width="0.5"/>
<line x1="230.9" y1="64.7" x2="232.5" y2="64.7" stroke="#bbb" stroke-width="0.5"/>
<line x1="230.9" y1="66.7" x2="232.5" y2="66.7" stroke="#bbb" stroke-width="0.5"/>
<line x1="230.9" y1="68.7" x2="232.5" y2="68.7" stroke="#bbb" stroke-width="0.5"/>
<line x1="230.9" y1="70.7" x2="232.5" y2="70.7" stroke="#bbb" stroke-width="0.5"/>
<line x1="230.9" y1="76.7" x2="232.5" y2="76.7" stroke="#bbb" stroke-width="0.5"/>
<line x1="230.9" y1="78.7" x2="232.5" y2="78.7" stroke="#bbb" stroke-width="0.5"/>
<line x1="230.9" y1="80.7" x2="232.5" y2="80.7" stroke="#bbb" stroke-width="0.5"/>
<line x1="230.9" y1="82.7" x2="232.5" y2="82.7" stroke="#bbb" stroke-width="0.5"/>
<line x1="230.9" y1="84.7" x2="232.5" y2="84.7" stroke="#bbb" stroke-width="0.5"/>
<line x1="230.9" y1="86.7" x2="232.5" y2="86.7" stroke="#bbb" stroke-width="0.5"/>
<line x1="235.1" y1="114.1" x2="235.1" y2="116.3" stroke="#555" stroke-width="0.8"/>
<text x="235.1" y="124.2" font-size="6.0" text-anchor="middle" fill="#2a2a2a">−10<tspan font-size="4.4399999999999995" dy="-2.5">3</tspan></text>
<line x1="246.9" y1="114.1" x2="246.9" y2="116.3" stroke="#555" stroke-width="0.8"/>
<text x="246.9" y="124.2" font-size="6.0" text-anchor="middle" font-weight="normal" fill="#2a2a2a" >0</text>
<line x1="258.1" y1="114.1" x2="258.1" y2="116.3" stroke="#555" stroke-width="0.8"/>
<text x="258.1" y="124.2" font-size="6.0" text-anchor="middle" fill="#2a2a2a">10<tspan font-size="4.4399999999999995" dy="-2.5">3</tspan></text>
<line x1="274.2" y1="114.1" x2="274.2" y2="116.3" stroke="#555" stroke-width="0.8"/>
<text x="274.2" y="124.2" font-size="6.0" text-anchor="middle" fill="#2a2a2a">10<tspan font-size="4.4399999999999995" dy="-2.5">4</tspan></text>
<line x1="287.8" y1="114.1" x2="287.8" y2="116.3" stroke="#555" stroke-width="0.8"/>
<text x="287.8" y="124.2" font-size="6.0" text-anchor="middle" fill="#2a2a2a">10<tspan font-size="4.4399999999999995" dy="-2.5">5</tspan></text>
<line x1="260.1" y1="114.1" x2="260.1" y2="115.7" stroke="#bbb" stroke-width="0.5"/>
<line x1="262.1" y1="114.1" x2="262.1" y2="115.7" stroke="#bbb" stroke-width="0.5"/>
<line x1="264.1" y1="114.1" x2="264.1" y2="115.7" stroke="#bbb" stroke-width="0.5"/>
<line x1="266.1" y1="114.1" x2="266.1" y2="115.7" stroke="#bbb" stroke-width="0.5"/>
<line x1="268.1" y1="114.1" x2="268.1" y2="115.7" stroke="#bbb" stroke-width="0.5"/>
<line x1="270.1" y1="114.1" x2="270.1" y2="115.7" stroke="#bbb" stroke-width="0.5"/>
<line x1="276.6" y1="114.1" x2="276.6" y2="115.7" stroke="#bbb" stroke-width="0.5"/>
<line x1="278.6" y1="114.1" x2="278.6" y2="115.7" stroke="#bbb" stroke-width="0.5"/>
<line x1="280.6" y1="114.1" x2="280.6" y2="115.7" stroke="#bbb" stroke-width="0.5"/>
<line x1="282.6" y1="114.1" x2="282.6" y2="115.7" stroke="#bbb" stroke-width="0.5"/>
<line x1="284.6" y1="114.1" x2="284.6" y2="115.7" stroke="#bbb" stroke-width="0.5"/>
<line x1="286.6" y1="114.1" x2="286.6" y2="115.7" stroke="#bbb" stroke-width="0.5"/>
<rect x="230.7" y="98.4" width="1.8" height="2.2" fill="#111"/>
<ellipse cx="246.7" cy="115.1" rx="1.6" ry="0.9" fill="#111"/>
<g transform="translate(68,130)">
<g opacity="0.6" filter="url(#spkA)"><path fill-rule="evenodd" fill="#a8aed4" d="M41.0,41.0 30.4,41.0 29.1,40.4 28.7,39.1 31.3,31.9 32.4,29.8 38.6,23.4 39.8,22.6 41.0,22.4 45.2,23.5 46.2,24.1 46.9,25.0 47.2,26.2 47.9,36.0 47.5,37.6 46.5,38.8 43.2,40.4 41.0,41.0Z"/></g>
<path fill-rule="evenodd" fill="#1a2880" d="M18.0,48.3 14.8,48.3 13.4,48.0 12.5,47.0 12.1,45.2 12.4,42.1 12.9,29.2 13.8,15.1 14.9,10.4 15.8,9.4 16.9,9.2 17.9,9.3 18.7,9.9 19.2,10.6 19.4,11.6 18.5,38.8 18.8,39.5 22.0,40.7 24.4,41.3 35.9,39.9 43.8,39.5 45.0,39.8 48.1,41.3 48.8,42.0 49.1,43.2 49.1,45.2 48.9,46.2 48.3,46.9 47.2,47.3 39.6,48.1 18.0,48.3Z"/>
<path fill-rule="evenodd" fill="#2541ae" d="M15.4,47.6 14.2,47.6 13.4,47.1 12.9,46.2 12.7,45.1 13.2,42.4 13.7,29.0 14.5,15.4 15.5,11.0 16.1,10.2 17.0,10.0 18.2,10.5 18.6,11.9 17.6,38.8 17.8,39.8 18.2,40.6 18.8,41.0 21.0,41.7 24.2,42.3 36.9,41.1 44.0,40.7 45.6,41.2 47.5,42.4 47.8,43.1 47.8,45.2 47.2,46.0 40.2,47.2 33.4,47.2 15.4,47.6Z"/>
<path fill-rule="evenodd" fill="#2262cc" d="M15.6,47.3 14.5,47.3 13.7,47.0 13.2,46.2 13.0,45.1 13.6,42.5 14.1,29.0 14.9,15.5 15.8,11.4 16.2,10.6 17.0,10.4 17.9,10.9 18.3,12.1 17.2,38.8 17.8,42.5 18.6,42.8 24.6,42.8 43.6,41.3 44.8,41.5 45.6,42.1 46.1,42.9 46.3,44.0 46.0,45.0 45.2,45.8 43.4,46.3 40.6,46.8 33.2,46.6 17.2,47.0 15.6,47.3Z"/>
<path fill-rule="evenodd" fill="#2f95e0" d="M15.0,46.9 13.8,46.5 13.4,45.2 14.3,42.5 14.5,32.6 15.5,15.9 16.2,12.0 16.5,11.4 17.0,11.1 17.5,11.5 17.7,12.4 16.9,29.5 17.0,33.5 16.6,37.0 16.5,42.4 16.9,43.5 18.0,43.9 24.4,43.8 32.6,43.3 37.0,42.7 43.4,42.3 44.6,42.7 45.1,43.8 44.7,44.6 43.7,45.4 42.4,45.9 40.2,46.2 37.1,46.3 33.0,45.8 17.2,46.3 15.0,46.9Z"/>
<path fill-rule="evenodd" fill="#3cc6e6" d="M15.8,35.0 15.4,34.7 15.1,33.0 15.3,31.8 15.8,31.0 16.2,31.8 16.4,33.0 16.2,34.1 15.8,35.0ZM39.1,45.8 35.9,45.5 34.6,45.0 34.2,44.5 34.4,44.1 35.4,43.7 37.8,43.2 41.1,43.4 43.1,43.9 42.9,44.5 42.1,45.1 39.1,45.8ZM15.1,46.4 14.2,46.2 13.8,45.4 14.2,44.3 15.1,43.6 15.8,44.1 16.4,45.2 16.0,45.9 15.1,46.4Z"/>
<path fill-rule="evenodd" fill="#84d24a" d="M39.2,45.0 37.7,45.0 36.9,44.5 37.3,44.1 38.4,43.9 39.4,44.0 40.1,44.4 40.0,44.8 39.2,45.0ZM15.0,45.6 14.6,45.6 14.6,45.1 15.0,45.1 15.0,45.6Z"/>
</g>
<rect x="67.4" y="129.3" width="62.6" height="62.3" fill="none" stroke="#b0b0b0" stroke-width="0.9"/>
<line x1="65.60000000000001" y1="134.70000000000002" x2="67.80000000000001" y2="134.70000000000002" stroke="#555" stroke-width="0.8"/>
<text x="64.0" y="136.8" font-size="6.0" text-anchor="end" fill="#2a2a2a">10<tspan font-size="4.4399999999999995" dy="-2.5">5</tspan></text>
<line x1="65.60000000000001" y1="150.8" x2="67.80000000000001" y2="150.8" stroke="#555" stroke-width="0.8"/>
<text x="64.0" y="152.9" font-size="6.0" text-anchor="end" fill="#2a2a2a">10<tspan font-size="4.4399999999999995" dy="-2.5">4</tspan></text>
<line x1="65.60000000000001" y1="166.60000000000002" x2="67.80000000000001" y2="166.60000000000002" stroke="#555" stroke-width="0.8"/>
<text x="64.0" y="168.70000000000002" font-size="6.0" text-anchor="end" fill="#2a2a2a">10<tspan font-size="4.4399999999999995" dy="-2.5">3</tspan></text>
<line x1="65.60000000000001" y1="176.60000000000002" x2="67.80000000000001" y2="176.60000000000002" stroke="#555" stroke-width="0.8"/>
<text x="64.0" y="178.70000000000002" font-size="6.0" text-anchor="end" font-weight="normal" fill="#2a2a2a" >0</text>
<line x1="65.60000000000001" y1="187.10000000000002" x2="67.80000000000001" y2="187.10000000000002" stroke="#555" stroke-width="0.8"/>
<text x="64.0" y="189.20000000000002" font-size="6.0" text-anchor="end" fill="#2a2a2a">−10<tspan font-size="4.4399999999999995" dy="-2.5">3</tspan></text>
<line x1="66.2" y1="137.8" x2="67.80000000000001" y2="137.8" stroke="#bbb" stroke-width="0.5"/>
<line x1="66.2" y1="139.8" x2="67.80000000000001" y2="139.8" stroke="#bbb" stroke-width="0.5"/>
<line x1="66.2" y1="141.8" x2="67.80000000000001" y2="141.8" stroke="#bbb" stroke-width="0.5"/>
<line x1="66.2" y1="143.8" x2="67.80000000000001" y2="143.8" stroke="#bbb" stroke-width="0.5"/>
<line x1="66.2" y1="145.8" x2="67.80000000000001" y2="145.8" stroke="#bbb" stroke-width="0.5"/>
<line x1="66.2" y1="147.8" x2="67.80000000000001" y2="147.8" stroke="#bbb" stroke-width="0.5"/>
<line x1="66.2" y1="153.8" x2="67.80000000000001" y2="153.8" stroke="#bbb" stroke-width="0.5"/>
<line x1="66.2" y1="155.8" x2="67.80000000000001" y2="155.8" stroke="#bbb" stroke-width="0.5"/>
<line x1="66.2" y1="157.8" x2="67.80000000000001" y2="157.8" stroke="#bbb" stroke-width="0.5"/>
<line x1="66.2" y1="159.8" x2="67.80000000000001" y2="159.8" stroke="#bbb" stroke-width="0.5"/>
<line x1="66.2" y1="161.8" x2="67.80000000000001" y2="161.8" stroke="#bbb" stroke-width="0.5"/>
<line x1="66.2" y1="163.8" x2="67.80000000000001" y2="163.8" stroke="#bbb" stroke-width="0.5"/>
<line x1="70.4" y1="191.20000000000002" x2="70.4" y2="193.40000000000003" stroke="#555" stroke-width="0.8"/>
<text x="70.4" y="201.3" font-size="6.0" text-anchor="middle" fill="#2a2a2a">−10<tspan font-size="4.4399999999999995" dy="-2.5">3</tspan></text>
<line x1="82.2" y1="191.20000000000002" x2="82.2" y2="193.40000000000003" stroke="#555" stroke-width="0.8"/>
<text x="82.2" y="201.3" font-size="6.0" text-anchor="middle" font-weight="normal" fill="#2a2a2a" >0</text>
<line x1="93.4" y1="191.20000000000002" x2="93.4" y2="193.40000000000003" stroke="#555" stroke-width="0.8"/>
<text x="93.4" y="201.3" font-size="6.0" text-anchor="middle" fill="#2a2a2a">10<tspan font-size="4.4399999999999995" dy="-2.5">3</tspan></text>
<line x1="109.5" y1="191.20000000000002" x2="109.5" y2="193.40000000000003" stroke="#555" stroke-width="0.8"/>
<text x="109.5" y="201.3" font-size="6.0" text-anchor="middle" fill="#2a2a2a">10<tspan font-size="4.4399999999999995" dy="-2.5">4</tspan></text>
<line x1="123.10000000000001" y1="191.20000000000002" x2="123.10000000000001" y2="193.40000000000003" stroke="#555" stroke-width="0.8"/>
<text x="123.10000000000001" y="201.3" font-size="6.0" text-anchor="middle" fill="#2a2a2a">10<tspan font-size="4.4399999999999995" dy="-2.5">5</tspan></text>
<line x1="95.4" y1="191.20000000000002" x2="95.4" y2="192.8" stroke="#bbb" stroke-width="0.5"/>
<line x1="97.4" y1="191.20000000000002" x2="97.4" y2="192.8" stroke="#bbb" stroke-width="0.5"/>
<line x1="99.4" y1="191.20000000000002" x2="99.4" y2="192.8" stroke="#bbb" stroke-width="0.5"/>
<line x1="101.4" y1="191.20000000000002" x2="101.4" y2="192.8" stroke="#bbb" stroke-width="0.5"/>
<line x1="103.4" y1="191.20000000000002" x2="103.4" y2="192.8" stroke="#bbb" stroke-width="0.5"/>
<line x1="105.4" y1="191.20000000000002" x2="105.4" y2="192.8" stroke="#bbb" stroke-width="0.5"/>
<line x1="111.9" y1="191.20000000000002" x2="111.9" y2="192.8" stroke="#bbb" stroke-width="0.5"/>
<line x1="113.9" y1="191.20000000000002" x2="113.9" y2="192.8" stroke="#bbb" stroke-width="0.5"/>
<line x1="115.9" y1="191.20000000000002" x2="115.9" y2="192.8" stroke="#bbb" stroke-width="0.5"/>
<line x1="117.9" y1="191.20000000000002" x2="117.9" y2="192.8" stroke="#bbb" stroke-width="0.5"/>
<line x1="119.9" y1="191.20000000000002" x2="119.9" y2="192.8" stroke="#bbb" stroke-width="0.5"/>
<line x1="121.9" y1="191.20000000000002" x2="121.9" y2="192.8" stroke="#bbb" stroke-width="0.5"/>
<rect x="66.0" y="175.5" width="1.8" height="2.2" fill="#111"/>
<ellipse cx="82.0" cy="192.20000000000002" rx="1.6" ry="0.9" fill="#111"/>
<g transform="translate(150,130)">
<g opacity="0.6" filter="url(#spkA)"><path fill-rule="evenodd" fill="#a8aed4" d="M39.1,41.0 30.4,41.0 29.2,40.4 28.9,39.0 32.1,31.9 33.4,29.8 38.8,25.1 40.0,24.5 41.4,24.4 45.2,25.5 46.2,26.1 46.8,26.9 47.2,28.2 47.8,36.5 47.2,37.9 46.1,38.8 41.4,40.5 39.1,41.0Z"/></g>
<g opacity="0.5" filter="url(#spkA)"><path fill-rule="evenodd" fill="#b8bcd8" d="M6.8,43.9 5.5,43.9 4.2,43.6 3.1,42.8 2.4,41.9 2.2,41.0 2.5,40.0 3.2,39.1 4.2,38.4 5.8,38.1 7.4,38.3 8.7,39.0 9.6,40.1 9.7,41.2 9.2,42.4 8.2,43.4 6.8,43.9Z"/></g>
<path fill-rule="evenodd" fill="#1a2880" d="M40.9,48.3 32.9,48.1 14.8,48.3 13.5,48.0 12.7,47.2 12.2,46.0 12.1,44.5 14.6,15.6 15.1,13.4 16.2,10.4 16.6,9.5 17.2,8.9 18.5,8.6 19.9,9.0 20.6,9.8 21.0,11.0 20.6,21.8 19.9,28.2 19.2,38.6 19.3,39.2 20.0,39.8 25.1,41.1 26.1,41.2 34.0,38.4 41.6,37.0 43.1,37.3 48.4,39.5 48.9,40.2 49.1,41.2 49.1,45.2 48.6,46.6 47.4,47.2 40.9,48.3Z"/>
<path fill-rule="evenodd" fill="#2541ae" d="M15.6,47.6 14.4,47.6 13.5,47.1 12.9,46.2 12.8,44.9 13.6,37.8 14.9,22.4 15.3,15.2 17.0,10.4 17.7,9.6 18.6,9.4 19.8,10.0 20.2,11.5 19.9,15.4 19.9,21.8 19.2,26.9 18.3,38.8 18.4,39.9 18.8,40.5 19.5,41.0 24.1,42.2 26.1,42.5 34.5,39.6 40.9,38.4 42.1,38.4 45.2,39.3 47.5,40.3 48.0,41.2 48.2,43.6 47.9,45.4 47.4,46.0 44.5,46.9 41.9,47.4 39.1,47.5 34.8,46.9 24.4,47.3 17.6,47.3 15.6,47.6Z"/>
<path fill-rule="evenodd" fill="#2262cc" d="M15.1,47.4 14.2,47.3 13.6,46.9 13.2,46.1 13.0,45.2 13.5,42.8 14.1,37.1 15.3,22.9 15.5,16.5 15.9,14.2 17.3,10.8 17.9,10.0 18.6,9.9 19.4,10.2 19.8,11.2 19.6,15.2 19.7,20.2 19.5,23.1 18.7,27.2 17.7,42.5 17.9,43.3 18.6,43.6 23.5,43.7 32.6,42.8 35.4,42.1 37.5,40.7 39.1,39.9 42.4,39.4 44.8,39.8 46.7,40.8 47.5,41.8 47.7,43.5 47.2,45.0 46.6,45.6 44.5,46.5 41.8,47.0 38.4,47.0 34.9,46.0 24.9,46.8 17.6,46.8 15.1,47.4Z"/>
<path fill-rule="evenodd" fill="#2f95e0" d="M15.5,46.9 14.6,46.9 14.0,46.6 13.6,46.0 13.5,45.1 14.2,42.9 14.8,37.1 16.0,23.6 15.8,18.9 16.0,16.0 16.3,14.5 17.7,11.2 18.0,10.8 18.5,10.6 19.0,10.8 19.2,11.5 19.0,14.9 19.3,20.8 19.0,23.1 18.1,26.5 16.6,43.1 16.8,44.1 17.9,45.4 16.4,46.5 15.5,46.9ZM41.1,46.5 38.1,46.2 35.9,44.6 35.1,44.3 24.8,45.4 34.9,43.9 36.0,43.3 38.2,41.4 40.8,40.5 43.8,40.6 45.0,41.0 46.0,41.7 46.5,42.4 46.6,43.2 46.4,44.1 45.9,44.9 44.1,45.9 41.1,46.5Z"/>
<path fill-rule="evenodd" fill="#3cc6e6" d="M17.5,24.5 17.1,24.5 16.9,23.5 16.3,20.4 16.2,18.1 16.7,15.2 17.2,14.2 17.9,13.7 18.1,14.0 18.7,16.8 18.9,20.0 18.5,22.7 17.5,24.5ZM41.9,45.8 39.8,45.8 38.4,45.1 37.8,44.0 38.2,42.8 39.6,41.8 41.4,41.3 43.2,41.4 44.6,42.1 45.2,43.1 44.9,44.3 43.7,45.2 41.9,45.8ZM15.4,46.5 14.4,46.4 13.9,45.5 14.2,44.4 15.1,43.4 15.8,44.0 16.3,45.2 16.1,46.0 15.4,46.5Z"/>
<path fill-rule="evenodd" fill="#84d24a" d="M17.8,21.9 17.4,21.7 17.0,21.0 16.7,19.0 16.9,17.0 17.1,16.3 17.5,16.1 18.1,17.0 18.4,19.0 18.3,21.0 17.8,21.9ZM42.0,44.8 40.9,44.8 40.0,44.5 39.6,44.0 39.7,43.2 40.2,42.7 41.1,42.4 42.1,42.4 42.9,42.6 43.4,43.1 43.4,43.8 42.9,44.4 42.0,44.8ZM15.1,46.0 14.6,45.9 14.4,45.5 14.5,45.0 14.9,44.7 15.2,44.8 15.6,45.2 15.5,45.8 15.1,46.0Z"/>
</g>
<rect x="149.8" y="129.3" width="62.6" height="62.3" fill="none" stroke="#b0b0b0" stroke-width="0.9"/>
<line x1="148.0" y1="134.70000000000002" x2="150.20000000000002" y2="134.70000000000002" stroke="#555" stroke-width="0.8"/>
<text x="146.4" y="136.8" font-size="6.0" text-anchor="end" fill="#2a2a2a">10<tspan font-size="4.4399999999999995" dy="-2.5">5</tspan></text>
<line x1="148.0" y1="150.8" x2="150.20000000000002" y2="150.8" stroke="#555" stroke-width="0.8"/>
<text x="146.4" y="152.9" font-size="6.0" text-anchor="end" fill="#2a2a2a">10<tspan font-size="4.4399999999999995" dy="-2.5">4</tspan></text>
<line x1="148.0" y1="166.60000000000002" x2="150.20000000000002" y2="166.60000000000002" stroke="#555" stroke-width="0.8"/>
<text x="146.4" y="168.70000000000002" font-size="6.0" text-anchor="end" fill="#2a2a2a">10<tspan font-size="4.4399999999999995" dy="-2.5">3</tspan></text>
<line x1="148.0" y1="176.60000000000002" x2="150.20000000000002" y2="176.60000000000002" stroke="#555" stroke-width="0.8"/>
<text x="146.4" y="178.70000000000002" font-size="6.0" text-anchor="end" font-weight="normal" fill="#2a2a2a" >0</text>
<line x1="148.0" y1="187.10000000000002" x2="150.20000000000002" y2="187.10000000000002" stroke="#555" stroke-width="0.8"/>
<text x="146.4" y="189.20000000000002" font-size="6.0" text-anchor="end" fill="#2a2a2a">−10<tspan font-size="4.4399999999999995" dy="-2.5">3</tspan></text>
<line x1="148.60000000000002" y1="137.8" x2="150.20000000000002" y2="137.8" stroke="#bbb" stroke-width="0.5"/>
<line x1="148.60000000000002" y1="139.8" x2="150.20000000000002" y2="139.8" stroke="#bbb" stroke-width="0.5"/>
<line x1="148.60000000000002" y1="141.8" x2="150.20000000000002" y2="141.8" stroke="#bbb" stroke-width="0.5"/>
<line x1="148.60000000000002" y1="143.8" x2="150.20000000000002" y2="143.8" stroke="#bbb" stroke-width="0.5"/>
<line x1="148.60000000000002" y1="145.8" x2="150.20000000000002" y2="145.8" stroke="#bbb" stroke-width="0.5"/>
<line x1="148.60000000000002" y1="147.8" x2="150.20000000000002" y2="147.8" stroke="#bbb" stroke-width="0.5"/>
<line x1="148.60000000000002" y1="153.8" x2="150.20000000000002" y2="153.8" stroke="#bbb" stroke-width="0.5"/>
<line x1="148.60000000000002" y1="155.8" x2="150.20000000000002" y2="155.8" stroke="#bbb" stroke-width="0.5"/>
<line x1="148.60000000000002" y1="157.8" x2="150.20000000000002" y2="157.8" stroke="#bbb" stroke-width="0.5"/>
<line x1="148.60000000000002" y1="159.8" x2="150.20000000000002" y2="159.8" stroke="#bbb" stroke-width="0.5"/>
<line x1="148.60000000000002" y1="161.8" x2="150.20000000000002" y2="161.8" stroke="#bbb" stroke-width="0.5"/>
<line x1="148.60000000000002" y1="163.8" x2="150.20000000000002" y2="163.8" stroke="#bbb" stroke-width="0.5"/>
<line x1="152.8" y1="191.20000000000002" x2="152.8" y2="193.40000000000003" stroke="#555" stroke-width="0.8"/>
<text x="152.8" y="201.3" font-size="6.0" text-anchor="middle" fill="#2a2a2a">−10<tspan font-size="4.4399999999999995" dy="-2.5">3</tspan></text>
<line x1="164.60000000000002" y1="191.20000000000002" x2="164.60000000000002" y2="193.40000000000003" stroke="#555" stroke-width="0.8"/>
<text x="164.60000000000002" y="201.3" font-size="6.0" text-anchor="middle" font-weight="normal" fill="#2a2a2a" >0</text>
<line x1="175.8" y1="191.20000000000002" x2="175.8" y2="193.40000000000003" stroke="#555" stroke-width="0.8"/>
<text x="175.8" y="201.3" font-size="6.0" text-anchor="middle" fill="#2a2a2a">10<tspan font-size="4.4399999999999995" dy="-2.5">3</tspan></text>
<line x1="191.9" y1="191.20000000000002" x2="191.9" y2="193.40000000000003" stroke="#555" stroke-width="0.8"/>
<text x="191.9" y="201.3" font-size="6.0" text-anchor="middle" fill="#2a2a2a">10<tspan font-size="4.4399999999999995" dy="-2.5">4</tspan></text>
<line x1="205.5" y1="191.20000000000002" x2="205.5" y2="193.40000000000003" stroke="#555" stroke-width="0.8"/>
<text x="205.5" y="201.3" font-size="6.0" text-anchor="middle" fill="#2a2a2a">10<tspan font-size="4.4399999999999995" dy="-2.5">5</tspan></text>
<line x1="177.8" y1="191.20000000000002" x2="177.8" y2="192.8" stroke="#bbb" stroke-width="0.5"/>
<line x1="179.8" y1="191.20000000000002" x2="179.8" y2="192.8" stroke="#bbb" stroke-width="0.5"/>
<line x1="181.8" y1="191.20000000000002" x2="181.8" y2="192.8" stroke="#bbb" stroke-width="0.5"/>
<line x1="183.8" y1="191.20000000000002" x2="183.8" y2="192.8" stroke="#bbb" stroke-width="0.5"/>
<line x1="185.8" y1="191.20000000000002" x2="185.8" y2="192.8" stroke="#bbb" stroke-width="0.5"/>
<line x1="187.8" y1="191.20000000000002" x2="187.8" y2="192.8" stroke="#bbb" stroke-width="0.5"/>
<line x1="194.3" y1="191.20000000000002" x2="194.3" y2="192.8" stroke="#bbb" stroke-width="0.5"/>
<line x1="196.3" y1="191.20000000000002" x2="196.3" y2="192.8" stroke="#bbb" stroke-width="0.5"/>
<line x1="198.3" y1="191.20000000000002" x2="198.3" y2="192.8" stroke="#bbb" stroke-width="0.5"/>
<line x1="200.3" y1="191.20000000000002" x2="200.3" y2="192.8" stroke="#bbb" stroke-width="0.5"/>
<line x1="202.3" y1="191.20000000000002" x2="202.3" y2="192.8" stroke="#bbb" stroke-width="0.5"/>
<line x1="204.3" y1="191.20000000000002" x2="204.3" y2="192.8" stroke="#bbb" stroke-width="0.5"/>
<rect x="148.4" y="175.5" width="1.8" height="2.2" fill="#111"/>
<ellipse cx="164.4" cy="192.20000000000002" rx="1.6" ry="0.9" fill="#111"/>
<g transform="translate(232,130)">
<g opacity="0.5" filter="url(#spkA)"><path fill-rule="evenodd" fill="#6a78c0" d="M28.2,44.9 26.4,44.9 21.0,44.2 19.6,43.4 19.1,42.0 19.8,29.9 20.2,27.5 23.2,18.2 24.0,17.2 25.0,16.8 26.4,17.1 30.6,19.2 32.4,20.4 39.9,27.8 45.2,32.5 46.1,34.0 46.0,34.9 45.4,35.9 41.3,40.5 39.8,41.8 37.9,42.6 28.2,44.9Z"/></g>
<g opacity="0.6" filter="url(#spkB)"><path fill-rule="evenodd" fill="#4050a8" d="M23.6,41.3 22.4,41.2 21.2,40.5 20.4,39.5 20.1,38.2 20.8,24.5 21.4,23.2 22.5,22.8 23.2,22.8 24.8,23.6 25.5,24.2 26.1,25.2 27.8,34.6 27.6,36.2 26.8,37.9 25.0,40.4 23.6,41.3Z"/></g>
<path fill-rule="evenodd" fill="#1a2880" d="M48.0,49.0 15.2,49.0 13.9,48.5 13.4,47.4 13.3,45.4 13.0,30.9 13.1,19.0 13.7,12.8 14.2,11.2 14.9,10.4 15.8,9.9 16.9,9.7 18.3,10.0 20.4,13.0 21.0,14.6 21.8,25.4 21.5,39.4 20.8,43.5 21.1,44.1 21.6,44.4 24.2,44.5 32.6,42.5 39.4,38.8 44.4,35.4 45.5,35.0 47.1,35.0 48.1,35.4 48.7,36.2 50.2,42.1 49.5,47.8 49.0,48.6 48.0,49.0Z"/>
<path fill-rule="evenodd" fill="#2541ae" d="M47.9,47.4 15.2,47.4 15.0,47.2 14.9,42.8 14.3,40.9 14.1,39.5 13.7,20.4 14.4,13.2 14.7,12.1 15.2,11.4 16.2,10.9 17.7,11.2 19.2,14.2 19.5,15.0 20.2,25.4 19.9,39.6 19.2,44.0 19.2,44.9 19.5,45.5 20.8,46.0 24.2,46.1 33.1,44.1 40.6,39.9 45.2,36.8 46.9,36.6 47.2,36.8 48.6,42.0 48.1,46.6 47.9,47.4Z"/>
<path fill-rule="evenodd" fill="#2262cc" d="M16.6,41.5 15.9,41.6 15.1,41.2 14.6,39.9 14.3,24.9 14.0,21.0 14.1,18.2 14.7,13.1 15.2,12.0 16.1,11.5 17.0,11.9 17.5,12.9 18.3,19.8 17.6,25.5 17.9,39.5 17.5,40.8 16.6,41.5Z"/>
<path fill-rule="evenodd" fill="#2f95e0" d="M16.2,40.7 15.5,40.3 15.2,39.4 14.9,25.0 14.4,20.4 14.5,18.1 15.2,13.5 15.5,12.8 16.0,12.5 16.5,12.7 16.8,13.2 17.7,19.9 17.6,21.9 16.9,25.4 17.1,39.2 16.9,40.2 16.2,40.7Z"/>
<path fill-rule="evenodd" fill="#3cc6e6" d="M16.0,24.4 15.6,24.2 15.0,22.7 14.7,20.1 15.1,17.2 15.6,15.9 16.0,15.7 16.9,17.5 17.3,20.0 16.9,22.5 16.0,24.4Z"/>
<path fill-rule="evenodd" fill="#84d24a" d="M15.9,22.6 15.3,21.8 15.1,19.9 15.4,18.1 16.0,17.4 16.6,18.4 16.8,20.1 16.5,22.0 15.9,22.6Z"/>
<path fill-rule="evenodd" fill="#f0e42c" d="M16.0,20.3 15.9,19.7 16.0,20.3Z"/>
</g>
<rect x="232.1" y="129.3" width="62.6" height="62.3" fill="none" stroke="#b0b0b0" stroke-width="0.9"/>
<line x1="230.29999999999998" y1="134.70000000000002" x2="232.5" y2="134.70000000000002" stroke="#555" stroke-width="0.8"/>
<text x="228.7" y="136.8" font-size="6.0" text-anchor="end" fill="#2a2a2a">10<tspan font-size="4.4399999999999995" dy="-2.5">5</tspan></text>
<line x1="230.29999999999998" y1="150.8" x2="232.5" y2="150.8" stroke="#555" stroke-width="0.8"/>
<text x="228.7" y="152.9" font-size="6.0" text-anchor="end" fill="#2a2a2a">10<tspan font-size="4.4399999999999995" dy="-2.5">4</tspan></text>
<line x1="230.29999999999998" y1="166.60000000000002" x2="232.5" y2="166.60000000000002" stroke="#555" stroke-width="0.8"/>
<text x="228.7" y="168.70000000000002" font-size="6.0" text-anchor="end" fill="#2a2a2a">10<tspan font-size="4.4399999999999995" dy="-2.5">3</tspan></text>
<line x1="230.29999999999998" y1="176.60000000000002" x2="232.5" y2="176.60000000000002" stroke="#555" stroke-width="0.8"/>
<text x="228.7" y="178.70000000000002" font-size="6.0" text-anchor="end" font-weight="normal" fill="#2a2a2a" >0</text>
<line x1="230.29999999999998" y1="187.10000000000002" x2="232.5" y2="187.10000000000002" stroke="#555" stroke-width="0.8"/>
<text x="228.7" y="189.20000000000002" font-size="6.0" text-anchor="end" fill="#2a2a2a">−10<tspan font-size="4.4399999999999995" dy="-2.5">3</tspan></text>
<line x1="230.9" y1="137.8" x2="232.5" y2="137.8" stroke="#bbb" stroke-width="0.5"/>
<line x1="230.9" y1="139.8" x2="232.5" y2="139.8" stroke="#bbb" stroke-width="0.5"/>
<line x1="230.9" y1="141.8" x2="232.5" y2="141.8" stroke="#bbb" stroke-width="0.5"/>
<line x1="230.9" y1="143.8" x2="232.5" y2="143.8" stroke="#bbb" stroke-width="0.5"/>
<line x1="230.9" y1="145.8" x2="232.5" y2="145.8" stroke="#bbb" stroke-width="0.5"/>
<line x1="230.9" y1="147.8" x2="232.5" y2="147.8" stroke="#bbb" stroke-width="0.5"/>
<line x1="230.9" y1="153.8" x2="232.5" y2="153.8" stroke="#bbb" stroke-width="0.5"/>
<line x1="230.9" y1="155.8" x2="232.5" y2="155.8" stroke="#bbb" stroke-width="0.5"/>
<line x1="230.9" y1="157.8" x2="232.5" y2="157.8" stroke="#bbb" stroke-width="0.5"/>
<line x1="230.9" y1="159.8" x2="232.5" y2="159.8" stroke="#bbb" stroke-width="0.5"/>
<line x1="230.9" y1="161.8" x2="232.5" y2="161.8" stroke="#bbb" stroke-width="0.5"/>
<line x1="230.9" y1="163.8" x2="232.5" y2="163.8" stroke="#bbb" stroke-width="0.5"/>
<line x1="235.1" y1="191.20000000000002" x2="235.1" y2="193.40000000000003" stroke="#555" stroke-width="0.8"/>
<text x="235.1" y="201.3" font-size="6.0" text-anchor="middle" fill="#2a2a2a">−10<tspan font-size="4.4399999999999995" dy="-2.5">3</tspan></text>
<line x1="246.9" y1="191.20000000000002" x2="246.9" y2="193.40000000000003" stroke="#555" stroke-width="0.8"/>
<text x="246.9" y="201.3" font-size="6.0" text-anchor="middle" font-weight="normal" fill="#2a2a2a" >0</text>
<line x1="258.1" y1="191.20000000000002" x2="258.1" y2="193.40000000000003" stroke="#555" stroke-width="0.8"/>
<text x="258.1" y="201.3" font-size="6.0" text-anchor="middle" fill="#2a2a2a">10<tspan font-size="4.4399999999999995" dy="-2.5">3</tspan></text>
<line x1="274.2" y1="191.20000000000002" x2="274.2" y2="193.40000000000003" stroke="#555" stroke-width="0.8"/>
<text x="274.2" y="201.3" font-size="6.0" text-anchor="middle" fill="#2a2a2a">10<tspan font-size="4.4399999999999995" dy="-2.5">4</tspan></text>
<line x1="287.8" y1="191.20000000000002" x2="287.8" y2="193.40000000000003" stroke="#555" stroke-width="0.8"/>
<text x="287.8" y="201.3" font-size="6.0" text-anchor="middle" fill="#2a2a2a">10<tspan font-size="4.4399999999999995" dy="-2.5">5</tspan></text>
<line x1="260.1" y1="191.20000000000002" x2="260.1" y2="192.8" stroke="#bbb" stroke-width="0.5"/>
<line x1="262.1" y1="191.20000000000002" x2="262.1" y2="192.8" stroke="#bbb" stroke-width="0.5"/>
<line x1="264.1" y1="191.20000000000002" x2="264.1" y2="192.8" stroke="#bbb" stroke-width="0.5"/>
<line x1="266.1" y1="191.20000000000002" x2="266.1" y2="192.8" stroke="#bbb" stroke-width="0.5"/>
<line x1="268.1" y1="191.20000000000002" x2="268.1" y2="192.8" stroke="#bbb" stroke-width="0.5"/>
<line x1="270.1" y1="191.20000000000002" x2="270.1" y2="192.8" stroke="#bbb" stroke-width="0.5"/>
<line x1="276.6" y1="191.20000000000002" x2="276.6" y2="192.8" stroke="#bbb" stroke-width="0.5"/>
<line x1="278.6" y1="191.20000000000002" x2="278.6" y2="192.8" stroke="#bbb" stroke-width="0.5"/>
<line x1="280.6" y1="191.20000000000002" x2="280.6" y2="192.8" stroke="#bbb" stroke-width="0.5"/>
<line x1="282.6" y1="191.20000000000002" x2="282.6" y2="192.8" stroke="#bbb" stroke-width="0.5"/>
<line x1="284.6" y1="191.20000000000002" x2="284.6" y2="192.8" stroke="#bbb" stroke-width="0.5"/>
<line x1="286.6" y1="191.20000000000002" x2="286.6" y2="192.8" stroke="#bbb" stroke-width="0.5"/>
<rect x="230.7" y="175.5" width="1.8" height="2.2" fill="#111"/>
<ellipse cx="246.7" cy="192.20000000000002" rx="1.6" ry="0.9" fill="#111"/>
<g transform="translate(68,224)">
<path fill-rule="evenodd" fill="#1a2880" d="M18.2,54.3 11.2,54.1 10.0,53.5 9.4,52.2 9.2,49.1 8.4,14.4 8.6,12.8 9.3,11.1 10.9,8.8 12.4,7.8 17.1,6.7 21.1,6.4 25.8,6.4 30.4,7.2 36.2,8.4 43.5,10.7 45.0,11.8 46.2,13.2 46.7,14.5 46.8,16.2 46.6,20.2 45.7,24.0 45.2,27.5 44.2,48.6 43.7,50.4 41.9,52.3 41.0,52.5 40.2,52.2 33.4,44.2 32.8,42.4 31.5,41.3 31.0,40.4 30.5,37.9 32.9,36.5 33.9,36.7 34.6,37.5 35.1,38.6 35.2,40.2 35.9,40.0 36.4,39.5 37.7,35.1 37.5,33.9 36.6,31.9 36.2,31.7 35.8,33.1 35.2,33.8 34.6,34.2 33.9,34.2 32.9,33.4 32.5,32.2 33.0,31.0 34.6,30.2 34.2,29.6 31.9,28.8 26.5,28.8 23.8,30.0 23.1,31.0 22.7,38.0 22.6,46.9 21.7,52.2 21.2,53.2 20.6,53.7 18.2,54.3ZM29.6,38.1 28.6,38.1 28.0,37.4 27.6,36.2 27.2,34.2 27.5,32.9 28.8,32.0 29.5,32.1 30.0,32.5 30.8,34.6 30.5,37.8 29.6,38.1Z"/>
<path fill-rule="evenodd" fill="#2541ae" d="M16.0,53.6 11.4,53.3 10.5,52.7 10.1,51.5 9.2,14.4 9.5,12.6 10.5,10.6 12.0,8.9 14.4,8.1 18.1,7.4 25.0,7.2 35.0,9.0 41.8,10.8 43.5,11.6 45.0,12.9 45.7,14.0 46.0,15.2 46.0,17.5 45.7,20.5 44.5,24.6 43.4,44.6 42.9,49.1 42.5,50.1 41.5,51.1 40.6,51.0 34.3,43.4 34.3,42.8 34.5,42.2 36.5,40.6 37.2,39.8 38.5,36.0 38.5,34.2 37.2,30.8 35.9,29.6 32.2,27.8 31.0,27.6 26.5,27.6 25.2,27.9 23.4,28.9 22.8,29.5 22.3,30.5 22.0,37.8 21.9,46.8 20.9,52.0 20.4,52.8 19.6,53.3 16.0,53.6Z"/>
<path fill-rule="evenodd" fill="#2262cc" d="M17.0,53.3 11.8,53.1 10.9,52.5 10.4,51.4 9.6,14.4 9.8,12.8 10.7,11.0 12.2,9.2 14.4,8.5 18.1,7.8 25.0,7.7 34.9,9.4 41.6,11.2 43.2,11.9 44.6,13.0 45.4,14.1 45.7,15.2 45.7,17.2 45.2,20.8 43.6,24.1 42.5,44.8 42.0,45.0 41.4,44.9 35.8,42.6 35.9,42.1 37.5,40.8 38.1,39.8 39.3,35.8 39.3,34.2 38.2,31.0 37.6,29.9 32.6,26.9 32.5,24.4 32.1,23.4 31.4,23.4 29.4,24.8 27.2,25.7 25.2,25.9 22.9,25.8 22.3,26.5 22.2,28.5 21.8,31.0 21.5,46.4 20.9,50.8 20.5,52.0 19.9,52.7 18.9,53.1 17.0,53.3Z"/>
<path fill-rule="evenodd" fill="#2f95e0" d="M17.1,52.8 14.5,52.8 12.2,52.6 11.3,52.1 11.0,51.1 10.2,14.5 10.4,12.9 11.2,11.2 12.6,9.7 14.9,9.0 18.1,8.5 24.6,8.5 34.8,10.1 41.4,11.8 43.1,12.5 44.7,14.0 45.2,15.8 44.9,19.7 44.4,20.9 43.6,21.6 42.5,21.9 41.2,21.9 33.2,20.5 30.6,20.3 29.7,20.8 29.5,22.1 29.1,22.9 27.5,24.0 25.1,24.3 22.2,23.6 21.5,23.8 21.1,24.2 20.9,25.8 20.8,44.8 20.5,49.1 20.1,51.1 19.7,52.0 18.8,52.5 17.1,52.8Z"/>
<path fill-rule="evenodd" fill="#3cc6e6" d="M16.8,52.3 14.6,52.4 12.6,52.1 11.9,51.6 11.5,50.6 10.9,14.6 11.1,13.1 11.9,11.6 12.9,10.5 14.4,9.9 16.5,9.7 21.6,9.6 34.5,11.2 41.4,12.6 43.1,13.4 44.3,14.5 44.6,16.2 44.3,19.0 43.9,19.7 43.3,20.1 41.1,20.3 33.8,18.9 27.9,18.2 27.2,18.5 26.6,19.2 25.5,21.7 20.7,23.0 19.6,23.6 19.4,24.6 19.4,49.6 18.9,51.5 18.1,51.9 16.8,52.3Z"/>
<path fill-rule="evenodd" fill="#84d24a" d="M16.0,51.6 14.6,51.7 13.4,51.4 12.9,50.8 12.7,49.8 12.5,15.0 12.6,13.5 13.1,12.5 13.8,11.9 14.5,11.6 16.8,11.6 19.9,10.8 21.6,10.8 23.2,11.1 26.1,12.1 34.8,13.2 41.6,14.5 42.9,15.0 43.5,15.9 43.5,17.1 43.0,17.9 42.0,18.3 33.2,16.8 27.5,16.2 26.9,16.7 25.2,19.6 23.7,21.0 21.6,22.0 18.4,22.3 17.8,22.6 17.5,23.9 17.6,49.6 17.3,51.0 16.0,51.6Z"/>
<path fill-rule="evenodd" fill="#f0e42c" d="M20.6,21.3 18.2,21.0 15.5,19.7 14.9,18.4 14.9,16.1 15.4,14.5 17.6,12.8 19.6,11.9 21.6,11.7 23.4,12.3 24.9,13.5 25.6,14.6 25.6,16.4 25.1,18.1 24.0,19.6 22.4,20.8 20.6,21.3Z"/>
<path fill-rule="evenodd" fill="#f49a22" d="M20.6,20.4 18.9,20.3 17.5,19.5 16.6,18.2 16.3,16.6 16.8,15.0 18.0,13.6 19.6,12.8 21.4,12.6 22.8,13.0 23.9,13.9 24.5,15.0 24.7,16.4 24.3,17.8 23.4,19.0 22.1,19.9 20.6,20.4Z"/>
<path fill-rule="evenodd" fill="#e3161a" d="M20.6,19.4 19.4,19.3 18.3,18.8 17.6,17.8 17.4,16.6 17.8,15.4 18.6,14.4 19.8,13.8 21.1,13.6 22.1,13.9 23.0,14.5 23.5,15.4 23.6,16.4 23.3,17.5 22.7,18.4 21.8,19.0 20.6,19.4Z"/>
</g>
<rect x="67.4" y="224.5" width="62.6" height="62.3" fill="none" stroke="#b0b0b0" stroke-width="0.9"/>
<line x1="65.60000000000001" y1="229.9" x2="67.80000000000001" y2="229.9" stroke="#555" stroke-width="0.8"/>
<text x="64.0" y="232.0" font-size="6.0" text-anchor="end" fill="#2a2a2a">10<tspan font-size="4.4399999999999995" dy="-2.5">5</tspan></text>
<line x1="65.60000000000001" y1="246.0" x2="67.80000000000001" y2="246.0" stroke="#555" stroke-width="0.8"/>
<text x="64.0" y="248.1" font-size="6.0" text-anchor="end" fill="#2a2a2a">10<tspan font-size="4.4399999999999995" dy="-2.5">4</tspan></text>
<line x1="65.60000000000001" y1="261.8" x2="67.80000000000001" y2="261.8" stroke="#555" stroke-width="0.8"/>
<text x="64.0" y="263.90000000000003" font-size="6.0" text-anchor="end" fill="#2a2a2a">10<tspan font-size="4.4399999999999995" dy="-2.5">3</tspan></text>
<line x1="65.60000000000001" y1="271.8" x2="67.80000000000001" y2="271.8" stroke="#555" stroke-width="0.8"/>
<text x="64.0" y="273.90000000000003" font-size="6.0" text-anchor="end" font-weight="normal" fill="#2a2a2a" >0</text>
<line x1="65.60000000000001" y1="282.3" x2="67.80000000000001" y2="282.3" stroke="#555" stroke-width="0.8"/>
<text x="64.0" y="284.40000000000003" font-size="6.0" text-anchor="end" fill="#2a2a2a">−10<tspan font-size="4.4399999999999995" dy="-2.5">3</tspan></text>
<line x1="66.2" y1="233.0" x2="67.80000000000001" y2="233.0" stroke="#bbb" stroke-width="0.5"/>
<line x1="66.2" y1="235.0" x2="67.80000000000001" y2="235.0" stroke="#bbb" stroke-width="0.5"/>
<line x1="66.2" y1="237.0" x2="67.80000000000001" y2="237.0" stroke="#bbb" stroke-width="0.5"/>
<line x1="66.2" y1="239.0" x2="67.80000000000001" y2="239.0" stroke="#bbb" stroke-width="0.5"/>
<line x1="66.2" y1="241.0" x2="67.80000000000001" y2="241.0" stroke="#bbb" stroke-width="0.5"/>
<line x1="66.2" y1="243.0" x2="67.80000000000001" y2="243.0" stroke="#bbb" stroke-width="0.5"/>
<line x1="66.2" y1="249.0" x2="67.80000000000001" y2="249.0" stroke="#bbb" stroke-width="0.5"/>
<line x1="66.2" y1="251.0" x2="67.80000000000001" y2="251.0" stroke="#bbb" stroke-width="0.5"/>
<line x1="66.2" y1="253.0" x2="67.80000000000001" y2="253.0" stroke="#bbb" stroke-width="0.5"/>
<line x1="66.2" y1="255.0" x2="67.80000000000001" y2="255.0" stroke="#bbb" stroke-width="0.5"/>
<line x1="66.2" y1="257.0" x2="67.80000000000001" y2="257.0" stroke="#bbb" stroke-width="0.5"/>
<line x1="66.2" y1="259.0" x2="67.80000000000001" y2="259.0" stroke="#bbb" stroke-width="0.5"/>
<line x1="70.4" y1="286.40000000000003" x2="70.4" y2="288.6" stroke="#555" stroke-width="0.8"/>
<text x="70.4" y="296.5" font-size="6.0" text-anchor="middle" fill="#2a2a2a">−10<tspan font-size="4.4399999999999995" dy="-2.5">3</tspan></text>
<line x1="82.2" y1="286.40000000000003" x2="82.2" y2="288.6" stroke="#555" stroke-width="0.8"/>
<text x="82.2" y="296.5" font-size="6.0" text-anchor="middle" font-weight="normal" fill="#2a2a2a" >0</text>
<line x1="93.4" y1="286.40000000000003" x2="93.4" y2="288.6" stroke="#555" stroke-width="0.8"/>
<text x="93.4" y="296.5" font-size="6.0" text-anchor="middle" fill="#2a2a2a">10<tspan font-size="4.4399999999999995" dy="-2.5">3</tspan></text>
<line x1="109.5" y1="286.40000000000003" x2="109.5" y2="288.6" stroke="#555" stroke-width="0.8"/>
<text x="109.5" y="296.5" font-size="6.0" text-anchor="middle" fill="#2a2a2a">10<tspan font-size="4.4399999999999995" dy="-2.5">4</tspan></text>
<line x1="123.10000000000001" y1="286.40000000000003" x2="123.10000000000001" y2="288.6" stroke="#555" stroke-width="0.8"/>
<text x="123.10000000000001" y="296.5" font-size="6.0" text-anchor="middle" fill="#2a2a2a">10<tspan font-size="4.4399999999999995" dy="-2.5">5</tspan></text>
<line x1="95.4" y1="286.40000000000003" x2="95.4" y2="288.0" stroke="#bbb" stroke-width="0.5"/>
<line x1="97.4" y1="286.40000000000003" x2="97.4" y2="288.0" stroke="#bbb" stroke-width="0.5"/>
<line x1="99.4" y1="286.40000000000003" x2="99.4" y2="288.0" stroke="#bbb" stroke-width="0.5"/>
<line x1="101.4" y1="286.40000000000003" x2="101.4" y2="288.0" stroke="#bbb" stroke-width="0.5"/>
<line x1="103.4" y1="286.40000000000003" x2="103.4" y2="288.0" stroke="#bbb" stroke-width="0.5"/>
<line x1="105.4" y1="286.40000000000003" x2="105.4" y2="288.0" stroke="#bbb" stroke-width="0.5"/>
<line x1="111.9" y1="286.40000000000003" x2="111.9" y2="288.0" stroke="#bbb" stroke-width="0.5"/>
<line x1="113.9" y1="286.40000000000003" x2="113.9" y2="288.0" stroke="#bbb" stroke-width="0.5"/>
<line x1="115.9" y1="286.40000000000003" x2="115.9" y2="288.0" stroke="#bbb" stroke-width="0.5"/>
<line x1="117.9" y1="286.40000000000003" x2="117.9" y2="288.0" stroke="#bbb" stroke-width="0.5"/>
<line x1="119.9" y1="286.40000000000003" x2="119.9" y2="288.0" stroke="#bbb" stroke-width="0.5"/>
<line x1="121.9" y1="286.40000000000003" x2="121.9" y2="288.0" stroke="#bbb" stroke-width="0.5"/>
<rect x="66.0" y="270.7" width="1.8" height="2.2" fill="#111"/>
<ellipse cx="82.0" cy="287.40000000000003" rx="1.6" ry="0.9" fill="#111"/>
<g transform="translate(150,224)">
<path fill-rule="evenodd" fill="#1a2880" d="M20.5,54.3 15.6,54.3 14.0,54.1 12.9,53.1 12.2,51.2 11.1,45.9 10.9,43.5 11.0,25.2 11.7,20.2 12.2,18.8 13.6,17.4 17.2,15.7 26.5,13.3 33.2,11.9 37.6,11.4 42.8,12.1 44.4,12.6 45.4,13.5 47.0,15.9 47.4,17.2 47.6,18.9 47.2,27.0 46.7,30.8 45.2,37.9 45.5,43.1 45.1,44.6 42.9,47.3 41.5,48.1 30.2,48.1 28.9,48.4 26.5,49.9 22.9,53.6 21.9,54.1 20.5,54.3Z"/>
<path fill-rule="evenodd" fill="#2541ae" d="M18.2,53.6 15.0,53.6 13.6,52.9 12.9,51.4 11.7,45.6 11.7,25.8 12.4,20.8 12.9,19.1 14.2,18.0 17.8,16.3 26.4,14.1 33.2,12.7 37.6,12.1 42.6,12.8 44.1,13.4 45.2,14.5 46.5,16.6 46.8,18.0 46.9,20.1 46.4,26.1 44.2,37.5 44.3,43.1 44.0,44.4 42.2,46.3 41.2,46.9 30.2,46.9 28.8,47.2 26.5,48.5 22.2,53.0 21.0,53.4 18.2,53.6Z"/>
<path fill-rule="evenodd" fill="#2262cc" d="M18.9,53.3 15.2,53.3 13.9,52.6 13.3,51.4 12.0,45.9 11.8,43.6 12.1,25.9 12.7,20.9 13.2,19.4 14.6,18.2 17.9,16.7 26.2,14.4 33.0,13.1 37.5,12.5 42.4,13.1 43.9,13.6 44.8,14.5 45.9,16.1 46.5,18.4 46.3,23.8 45.8,26.6 45.1,27.9 44.4,28.3 41.1,29.0 36.2,29.7 34.9,29.7 31.0,28.9 29.6,29.1 29.1,29.6 29.5,29.9 31.0,30.0 42.6,30.1 43.5,30.5 43.8,31.2 43.0,42.8 42.8,43.4 41.8,44.0 26.4,45.0 25.8,45.9 25.3,48.6 22.9,51.9 21.4,53.0 18.9,53.3Z"/>
<path fill-rule="evenodd" fill="#2f95e0" d="M16.5,52.9 14.9,52.7 13.9,51.9 12.3,44.9 12.6,25.9 13.3,21.0 13.8,19.6 15.5,18.4 18.3,17.1 25.5,15.1 33.0,13.6 37.6,13.1 42.4,13.7 43.8,14.2 45.5,16.5 46.1,18.4 46.0,22.7 45.6,24.5 45.0,25.9 44.5,26.4 43.6,26.8 40.9,27.7 38.2,28.2 34.2,28.3 29.1,27.3 28.0,27.6 26.8,28.4 26.0,29.6 25.0,32.9 24.3,39.6 23.8,48.1 23.4,49.6 22.4,51.4 21.4,52.3 19.9,52.6 16.5,52.9Z"/>
<path fill-rule="evenodd" fill="#3cc6e6" d="M16.8,52.4 15.1,52.3 14.3,51.6 13.0,47.1 12.6,44.6 13.2,26.6 14.0,22.0 14.6,20.1 16.2,18.9 18.5,17.8 23.7,16.1 29.4,14.9 37.0,13.7 41.7,14.2 43.4,14.8 45.2,17.1 45.7,19.5 45.7,21.8 45.3,23.5 44.7,24.6 43.8,25.5 41.9,26.5 39.9,27.2 35.6,27.7 32.1,27.2 28.6,25.4 27.8,25.2 26.1,25.9 24.5,27.2 23.2,30.6 22.7,32.5 21.2,50.8 20.8,51.5 20.0,51.9 16.8,52.4Z"/>
<path fill-rule="evenodd" fill="#84d24a" d="M16.8,51.6 15.4,51.6 14.8,51.0 13.4,46.9 13.0,43.9 13.7,38.4 14.3,28.9 16.4,22.8 17.1,21.2 18.4,20.1 22.0,17.9 23.8,17.1 25.9,16.6 38.1,14.9 41.4,15.2 43.5,16.1 44.6,17.2 45.1,18.4 45.3,20.4 45.0,22.2 44.6,23.3 43.9,24.2 41.0,25.9 39.0,26.6 37.0,26.9 35.0,26.9 33.1,26.5 30.6,25.2 28.5,22.6 27.8,22.2 25.6,22.7 22.1,25.1 20.3,29.8 19.8,31.6 19.1,39.2 19.7,43.8 19.4,46.9 18.2,50.9 17.6,51.4 16.8,51.6Z"/>
<path fill-rule="evenodd" fill="#f0e42c" d="M37.5,25.9 35.8,25.9 34.0,25.7 32.6,25.1 31.4,24.2 30.7,23.2 30.4,22.1 30.5,20.9 30.9,19.5 31.7,18.6 33.1,17.6 36.4,16.3 39.6,16.1 41.1,16.4 42.5,16.9 43.8,17.9 44.4,19.1 44.5,20.8 44.0,22.2 43.0,23.5 41.4,24.6 39.5,25.5 37.5,25.9ZM16.2,49.4 15.4,49.4 14.5,48.5 13.8,46.6 13.4,44.5 13.5,42.5 14.0,40.9 14.8,39.9 15.9,39.5 16.9,39.9 17.8,40.9 18.4,42.4 18.6,44.1 18.5,45.9 18.0,47.5 17.2,48.7 16.2,49.4Z"/>
<path fill-rule="evenodd" fill="#f49a22" d="M37.8,24.9 35.1,24.8 32.9,23.9 32.2,23.1 31.9,22.2 31.8,21.4 32.1,20.4 33.6,18.6 36.0,17.4 38.8,17.0 41.2,17.6 42.3,18.4 43.0,19.4 43.2,20.5 42.9,21.6 42.1,22.8 40.9,23.8 39.4,24.5 37.8,24.9ZM16.1,47.9 15.2,47.8 14.6,47.2 14.1,46.0 13.9,44.6 14.0,43.2 14.4,42.1 15.0,41.3 15.8,41.0 16.5,41.3 17.1,41.9 17.6,42.9 17.8,44.1 17.8,45.5 17.4,46.6 16.9,47.4 16.1,47.9Z"/>
<path fill-rule="evenodd" fill="#e3161a" d="M37.9,23.8 36.0,23.8 34.4,23.2 33.5,22.1 33.6,20.8 34.4,19.5 36.0,18.6 37.9,18.2 39.8,18.4 40.7,18.9 41.3,19.5 41.6,20.4 41.4,21.2 40.9,22.1 40.1,22.9 37.9,23.8ZM15.8,46.3 15.0,45.7 14.7,44.5 15.0,43.3 15.8,42.7 16.6,43.2 16.9,44.5 16.6,45.8 15.8,46.3Z"/>
</g>
<rect x="149.8" y="224.5" width="62.6" height="62.3" fill="none" stroke="#b0b0b0" stroke-width="0.9"/>
<line x1="148.0" y1="229.9" x2="150.20000000000002" y2="229.9" stroke="#555" stroke-width="0.8"/>
<text x="146.4" y="232.0" font-size="6.0" text-anchor="end" fill="#2a2a2a">10<tspan font-size="4.4399999999999995" dy="-2.5">5</tspan></text>
<line x1="148.0" y1="246.0" x2="150.20000000000002" y2="246.0" stroke="#555" stroke-width="0.8"/>
<text x="146.4" y="248.1" font-size="6.0" text-anchor="end" fill="#2a2a2a">10<tspan font-size="4.4399999999999995" dy="-2.5">4</tspan></text>
<line x1="148.0" y1="261.8" x2="150.20000000000002" y2="261.8" stroke="#555" stroke-width="0.8"/>
<text x="146.4" y="263.90000000000003" font-size="6.0" text-anchor="end" fill="#2a2a2a">10<tspan font-size="4.4399999999999995" dy="-2.5">3</tspan></text>
<line x1="148.0" y1="271.8" x2="150.20000000000002" y2="271.8" stroke="#555" stroke-width="0.8"/>
<text x="146.4" y="273.90000000000003" font-size="6.0" text-anchor="end" font-weight="normal" fill="#2a2a2a" >0</text>
<line x1="148.0" y1="282.3" x2="150.20000000000002" y2="282.3" stroke="#555" stroke-width="0.8"/>
<text x="146.4" y="284.40000000000003" font-size="6.0" text-anchor="end" fill="#2a2a2a">−10<tspan font-size="4.4399999999999995" dy="-2.5">3</tspan></text>
<line x1="148.60000000000002" y1="233.0" x2="150.20000000000002" y2="233.0" stroke="#bbb" stroke-width="0.5"/>
<line x1="148.60000000000002" y1="235.0" x2="150.20000000000002" y2="235.0" stroke="#bbb" stroke-width="0.5"/>
<line x1="148.60000000000002" y1="237.0" x2="150.20000000000002" y2="237.0" stroke="#bbb" stroke-width="0.5"/>
<line x1="148.60000000000002" y1="239.0" x2="150.20000000000002" y2="239.0" stroke="#bbb" stroke-width="0.5"/>
<line x1="148.60000000000002" y1="241.0" x2="150.20000000000002" y2="241.0" stroke="#bbb" stroke-width="0.5"/>
<line x1="148.60000000000002" y1="243.0" x2="150.20000000000002" y2="243.0" stroke="#bbb" stroke-width="0.5"/>
<line x1="148.60000000000002" y1="249.0" x2="150.20000000000002" y2="249.0" stroke="#bbb" stroke-width="0.5"/>
<line x1="148.60000000000002" y1="251.0" x2="150.20000000000002" y2="251.0" stroke="#bbb" stroke-width="0.5"/>
<line x1="148.60000000000002" y1="253.0" x2="150.20000000000002" y2="253.0" stroke="#bbb" stroke-width="0.5"/>
<line x1="148.60000000000002" y1="255.0" x2="150.20000000000002" y2="255.0" stroke="#bbb" stroke-width="0.5"/>
<line x1="148.60000000000002" y1="257.0" x2="150.20000000000002" y2="257.0" stroke="#bbb" stroke-width="0.5"/>
<line x1="148.60000000000002" y1="259.0" x2="150.20000000000002" y2="259.0" stroke="#bbb" stroke-width="0.5"/>
<line x1="152.8" y1="286.40000000000003" x2="152.8" y2="288.6" stroke="#555" stroke-width="0.8"/>
<text x="152.8" y="296.5" font-size="6.0" text-anchor="middle" fill="#2a2a2a">−10<tspan font-size="4.4399999999999995" dy="-2.5">3</tspan></text>
<line x1="164.60000000000002" y1="286.40000000000003" x2="164.60000000000002" y2="288.6" stroke="#555" stroke-width="0.8"/>
<text x="164.60000000000002" y="296.5" font-size="6.0" text-anchor="middle" font-weight="normal" fill="#2a2a2a" >0</text>
<line x1="175.8" y1="286.40000000000003" x2="175.8" y2="288.6" stroke="#555" stroke-width="0.8"/>
<text x="175.8" y="296.5" font-size="6.0" text-anchor="middle" fill="#2a2a2a">10<tspan font-size="4.4399999999999995" dy="-2.5">3</tspan></text>
<line x1="191.9" y1="286.40000000000003" x2="191.9" y2="288.6" stroke="#555" stroke-width="0.8"/>
<text x="191.9" y="296.5" font-size="6.0" text-anchor="middle" fill="#2a2a2a">10<tspan font-size="4.4399999999999995" dy="-2.5">4</tspan></text>
<line x1="205.5" y1="286.40000000000003" x2="205.5" y2="288.6" stroke="#555" stroke-width="0.8"/>
<text x="205.5" y="296.5" font-size="6.0" text-anchor="middle" fill="#2a2a2a">10<tspan font-size="4.4399999999999995" dy="-2.5">5</tspan></text>
<line x1="177.8" y1="286.40000000000003" x2="177.8" y2="288.0" stroke="#bbb" stroke-width="0.5"/>
<line x1="179.8" y1="286.40000000000003" x2="179.8" y2="288.0" stroke="#bbb" stroke-width="0.5"/>
<line x1="181.8" y1="286.40000000000003" x2="181.8" y2="288.0" stroke="#bbb" stroke-width="0.5"/>
<line x1="183.8" y1="286.40000000000003" x2="183.8" y2="288.0" stroke="#bbb" stroke-width="0.5"/>
<line x1="185.8" y1="286.40000000000003" x2="185.8" y2="288.0" stroke="#bbb" stroke-width="0.5"/>
<line x1="187.8" y1="286.40000000000003" x2="187.8" y2="288.0" stroke="#bbb" stroke-width="0.5"/>
<line x1="194.3" y1="286.40000000000003" x2="194.3" y2="288.0" stroke="#bbb" stroke-width="0.5"/>
<line x1="196.3" y1="286.40000000000003" x2="196.3" y2="288.0" stroke="#bbb" stroke-width="0.5"/>
<line x1="198.3" y1="286.40000000000003" x2="198.3" y2="288.0" stroke="#bbb" stroke-width="0.5"/>
<line x1="200.3" y1="286.40000000000003" x2="200.3" y2="288.0" stroke="#bbb" stroke-width="0.5"/>
<line x1="202.3" y1="286.40000000000003" x2="202.3" y2="288.0" stroke="#bbb" stroke-width="0.5"/>
<line x1="204.3" y1="286.40000000000003" x2="204.3" y2="288.0" stroke="#bbb" stroke-width="0.5"/>
<rect x="148.4" y="270.7" width="1.8" height="2.2" fill="#111"/>
<ellipse cx="164.4" cy="287.40000000000003" rx="1.6" ry="0.9" fill="#111"/>
<g transform="translate(232,224)">
<path fill-rule="evenodd" fill="#1a2880" d="M16.9,55.5 13.8,55.3 12.8,54.8 12.1,54.2 11.3,52.2 10.1,45.9 9.2,25.6 9.2,18.1 9.5,16.1 10.7,13.4 11.6,12.3 12.9,11.7 15.9,11.1 19.1,10.7 27.0,11.3 35.0,10.5 40.8,12.0 42.4,12.7 45.1,14.9 45.8,15.8 46.2,16.9 46.3,19.6 45.4,26.6 44.1,34.3 43.5,41.2 43.2,48.8 42.9,49.9 42.1,50.6 40.8,50.9 39.6,50.7 39.0,50.0 37.4,35.6 35.2,30.4 34.3,29.5 32.1,28.4 31.0,28.3 28.9,28.6 27.6,29.1 26.6,30.0 24.7,34.0 22.7,45.5 21.1,52.0 20.4,53.1 19.1,54.3 17.9,55.2 16.9,55.5Z"/>
<path fill-rule="evenodd" fill="#2541ae" d="M16.9,54.8 14.1,54.6 13.2,54.2 12.6,53.6 12.0,51.8 10.9,45.9 10.1,25.6 10.1,18.2 10.3,16.2 11.3,13.9 12.1,12.9 13.4,12.3 16.0,11.8 18.6,11.5 22.2,12.2 26.8,12.5 35.0,11.7 41.9,13.7 44.7,16.2 45.0,17.1 45.1,19.8 42.8,35.0 41.8,49.1 41.4,49.6 40.8,49.7 40.0,49.1 39.5,42.9 38.6,35.5 38.2,34.0 36.2,29.9 35.1,28.7 32.4,27.2 31.1,27.1 28.6,27.4 27.2,27.9 25.8,29.1 23.9,32.8 23.3,34.9 21.8,45.1 20.6,51.1 20.1,52.2 19.2,53.2 18.0,54.3 16.9,54.8Z"/>
<path fill-rule="evenodd" fill="#2262cc" d="M16.2,54.5 14.0,54.2 12.8,53.2 12.3,51.6 11.3,46.5 10.8,36.1 10.6,17.8 11.3,14.8 12.5,13.2 15.0,12.3 18.6,12.0 20.0,12.2 21.1,12.9 21.6,13.9 22.0,15.8 22.0,33.9 21.9,39.2 21.4,45.0 20.1,51.2 19.5,52.4 18.4,53.6 17.4,54.2 16.2,54.5ZM37.0,23.1 35.1,23.1 33.4,22.8 31.9,22.1 30.7,21.1 30.0,20.0 29.8,18.8 30.2,17.5 31.1,16.4 33.5,15.2 36.4,14.8 39.2,15.4 41.3,16.9 41.9,17.8 42.2,18.8 42.1,19.8 41.6,20.8 40.8,21.6 39.8,22.3 37.0,23.1Z"/>
<path fill-rule="evenodd" fill="#2f95e0" d="M16.4,54.0 14.4,53.8 13.2,53.0 12.7,51.4 11.9,46.6 11.5,36.2 11.4,17.9 11.8,15.4 12.8,13.7 14.8,12.9 17.6,12.5 19.0,12.8 19.9,13.4 20.4,14.4 20.7,16.0 20.6,44.0 20.0,48.8 19.5,51.4 18.1,53.1 17.2,53.7 16.4,54.0ZM36.6,20.5 35.2,20.5 34.1,19.9 33.7,19.0 34.1,18.1 34.9,17.6 36.0,17.4 37.1,17.6 37.9,18.1 38.2,18.8 38.2,19.5 37.6,20.1 36.6,20.5Z"/>
<path fill-rule="evenodd" fill="#3cc6e6" d="M16.2,53.5 14.5,53.3 13.6,52.5 13.1,50.9 12.6,46.9 12.4,36.4 12.4,17.2 12.7,15.2 13.4,14.1 14.9,13.4 16.9,13.2 18.0,13.3 18.8,13.9 19.3,14.8 19.5,16.1 19.4,44.6 18.9,51.2 17.8,52.8 16.2,53.5Z"/>
<path fill-rule="evenodd" fill="#84d24a" d="M16.4,52.8 14.9,52.7 14.1,51.9 13.6,50.0 13.5,46.6 13.8,16.2 14.0,15.2 14.4,14.6 15.1,14.2 16.1,14.0 17.1,14.2 17.8,14.8 18.1,15.8 18.2,17.1 18.0,50.1 17.6,51.8 17.1,52.4 16.4,52.8Z"/>
<path fill-rule="evenodd" fill="#f0e42c" d="M16.1,51.5 15.4,51.5 14.8,51.0 14.4,50.1 14.3,48.8 14.5,33.6 15.3,30.8 15.3,17.0 15.5,16.2 16.0,15.8 16.5,16.1 16.7,16.9 16.7,30.8 17.2,32.6 17.3,34.1 17.2,49.5 16.8,50.9 16.1,51.5Z"/>
<path fill-rule="evenodd" fill="#f49a22" d="M15.9,50.5 15.4,50.4 15.0,49.8 14.9,47.5 15.1,33.9 15.3,32.9 15.9,32.4 16.5,32.9 16.7,34.2 16.6,49.1 16.4,50.0 15.9,50.5Z"/>
</g>
<rect x="232.1" y="224.5" width="62.6" height="62.3" fill="none" stroke="#b0b0b0" stroke-width="0.9"/>
<line x1="230.29999999999998" y1="229.9" x2="232.5" y2="229.9" stroke="#555" stroke-width="0.8"/>
<text x="228.7" y="232.0" font-size="6.0" text-anchor="end" fill="#2a2a2a">10<tspan font-size="4.4399999999999995" dy="-2.5">5</tspan></text>
<line x1="230.29999999999998" y1="246.0" x2="232.5" y2="246.0" stroke="#555" stroke-width="0.8"/>
<text x="228.7" y="248.1" font-size="6.0" text-anchor="end" fill="#2a2a2a">10<tspan font-size="4.4399999999999995" dy="-2.5">4</tspan></text>
<line x1="230.29999999999998" y1="261.8" x2="232.5" y2="261.8" stroke="#555" stroke-width="0.8"/>
<text x="228.7" y="263.90000000000003" font-size="6.0" text-anchor="end" fill="#2a2a2a">10<tspan font-size="4.4399999999999995" dy="-2.5">3</tspan></text>
<line x1="230.29999999999998" y1="271.8" x2="232.5" y2="271.8" stroke="#555" stroke-width="0.8"/>
<text x="228.7" y="273.90000000000003" font-size="6.0" text-anchor="end" font-weight="normal" fill="#2a2a2a" >0</text>
<line x1="230.29999999999998" y1="282.3" x2="232.5" y2="282.3" stroke="#555" stroke-width="0.8"/>
<text x="228.7" y="284.40000000000003" font-size="6.0" text-anchor="end" fill="#2a2a2a">−10<tspan font-size="4.4399999999999995" dy="-2.5">3</tspan></text>
<line x1="230.9" y1="233.0" x2="232.5" y2="233.0" stroke="#bbb" stroke-width="0.5"/>
<line x1="230.9" y1="235.0" x2="232.5" y2="235.0" stroke="#bbb" stroke-width="0.5"/>
<line x1="230.9" y1="237.0" x2="232.5" y2="237.0" stroke="#bbb" stroke-width="0.5"/>
<line x1="230.9" y1="239.0" x2="232.5" y2="239.0" stroke="#bbb" stroke-width="0.5"/>
<line x1="230.9" y1="241.0" x2="232.5" y2="241.0" stroke="#bbb" stroke-width="0.5"/>
<line x1="230.9" y1="243.0" x2="232.5" y2="243.0" stroke="#bbb" stroke-width="0.5"/>
<line x1="230.9" y1="249.0" x2="232.5" y2="249.0" stroke="#bbb" stroke-width="0.5"/>
<line x1="230.9" y1="251.0" x2="232.5" y2="251.0" stroke="#bbb" stroke-width="0.5"/>
<line x1="230.9" y1="253.0" x2="232.5" y2="253.0" stroke="#bbb" stroke-width="0.5"/>
<line x1="230.9" y1="255.0" x2="232.5" y2="255.0" stroke="#bbb" stroke-width="0.5"/>
<line x1="230.9" y1="257.0" x2="232.5" y2="257.0" stroke="#bbb" stroke-width="0.5"/>
<line x1="230.9" y1="259.0" x2="232.5" y2="259.0" stroke="#bbb" stroke-width="0.5"/>
<line x1="235.1" y1="286.40000000000003" x2="235.1" y2="288.6" stroke="#555" stroke-width="0.8"/>
<text x="235.1" y="296.5" font-size="6.0" text-anchor="middle" fill="#2a2a2a">−10<tspan font-size="4.4399999999999995" dy="-2.5">3</tspan></text>
<line x1="246.9" y1="286.40000000000003" x2="246.9" y2="288.6" stroke="#555" stroke-width="0.8"/>
<text x="246.9" y="296.5" font-size="6.0" text-anchor="middle" font-weight="normal" fill="#2a2a2a" >0</text>
<line x1="258.1" y1="286.40000000000003" x2="258.1" y2="288.6" stroke="#555" stroke-width="0.8"/>
<text x="258.1" y="296.5" font-size="6.0" text-anchor="middle" fill="#2a2a2a">10<tspan font-size="4.4399999999999995" dy="-2.5">3</tspan></text>
<line x1="274.2" y1="286.40000000000003" x2="274.2" y2="288.6" stroke="#555" stroke-width="0.8"/>
<text x="274.2" y="296.5" font-size="6.0" text-anchor="middle" fill="#2a2a2a">10<tspan font-size="4.4399999999999995" dy="-2.5">4</tspan></text>
<line x1="287.8" y1="286.40000000000003" x2="287.8" y2="288.6" stroke="#555" stroke-width="0.8"/>
<text x="287.8" y="296.5" font-size="6.0" text-anchor="middle" fill="#2a2a2a">10<tspan font-size="4.4399999999999995" dy="-2.5">5</tspan></text>
<line x1="260.1" y1="286.40000000000003" x2="260.1" y2="288.0" stroke="#bbb" stroke-width="0.5"/>
<line x1="262.1" y1="286.40000000000003" x2="262.1" y2="288.0" stroke="#bbb" stroke-width="0.5"/>
<line x1="264.1" y1="286.40000000000003" x2="264.1" y2="288.0" stroke="#bbb" stroke-width="0.5"/>
<line x1="266.1" y1="286.40000000000003" x2="266.1" y2="288.0" stroke="#bbb" stroke-width="0.5"/>
<line x1="268.1" y1="286.40000000000003" x2="268.1" y2="288.0" stroke="#bbb" stroke-width="0.5"/>
<line x1="270.1" y1="286.40000000000003" x2="270.1" y2="288.0" stroke="#bbb" stroke-width="0.5"/>
<line x1="276.6" y1="286.40000000000003" x2="276.6" y2="288.0" stroke="#bbb" stroke-width="0.5"/>
<line x1="278.6" y1="286.40000000000003" x2="278.6" y2="288.0" stroke="#bbb" stroke-width="0.5"/>
<line x1="280.6" y1="286.40000000000003" x2="280.6" y2="288.0" stroke="#bbb" stroke-width="0.5"/>
<line x1="282.6" y1="286.40000000000003" x2="282.6" y2="288.0" stroke="#bbb" stroke-width="0.5"/>
<line x1="284.6" y1="286.40000000000003" x2="284.6" y2="288.0" stroke="#bbb" stroke-width="0.5"/>
<line x1="286.6" y1="286.40000000000003" x2="286.6" y2="288.0" stroke="#bbb" stroke-width="0.5"/>
<rect x="230.7" y="270.7" width="1.8" height="2.2" fill="#111"/>
<ellipse cx="246.7" cy="287.40000000000003" rx="1.6" ry="0.9" fill="#111"/>
<g transform="translate(68,301)">
<path fill-rule="evenodd" fill="#1a2880" d="M17.2,53.0 15.0,53.1 13.8,52.7 12.9,51.9 12.3,50.2 11.1,44.8 11.0,32.9 10.2,30.0 7.6,22.6 6.6,18.9 5.6,14.2 5.6,13.4 6.1,12.5 7.2,11.1 8.5,10.4 14.1,9.3 18.2,9.0 34.5,11.2 41.2,13.0 43.2,13.9 45.3,16.0 45.8,17.1 45.8,18.0 45.0,20.0 44.0,21.4 40.9,22.5 29.9,24.7 26.1,26.2 25.3,27.0 23.0,32.2 22.6,34.0 22.3,40.1 23.4,46.1 23.3,47.8 21.9,51.1 21.3,52.0 19.9,52.6 17.2,53.0Z"/>
<path fill-rule="evenodd" fill="#2541ae" d="M17.2,52.3 15.1,52.3 13.9,51.8 13.3,50.8 12.4,47.5 12.0,44.6 11.8,32.8 10.2,26.6 7.2,18.4 6.7,14.2 7.2,12.9 8.5,11.6 11.6,10.6 14.9,9.9 18.2,9.7 24.0,10.8 34.8,12.3 40.8,13.9 42.8,14.8 44.2,16.2 44.6,17.4 43.9,19.9 43.1,20.7 40.5,21.6 29.9,23.5 25.6,25.2 24.4,26.2 22.3,30.9 21.6,33.5 21.4,40.0 22.3,46.2 22.2,47.6 21.3,50.2 20.7,51.2 19.5,51.9 17.2,52.3Z"/>
<path fill-rule="evenodd" fill="#2262cc" d="M17.2,51.9 15.2,51.9 14.1,51.4 13.6,50.4 12.7,46.9 12.4,44.9 12.3,32.8 11.4,27.8 11.1,24.0 8.9,21.5 7.6,18.1 7.4,15.0 8.2,13.1 9.2,12.0 11.9,10.9 15.1,10.2 18.4,10.1 21.1,10.5 24.8,11.6 34.8,13.0 40.4,14.4 42.2,15.2 43.3,16.5 43.6,17.9 42.9,19.6 41.8,20.5 40.4,20.9 38.8,21.0 31.8,19.7 26.9,19.3 26.2,19.7 24.1,22.3 21.1,24.5 20.9,25.1 21.2,31.2 20.9,39.6 21.3,45.1 21.2,48.1 20.8,50.0 20.3,50.9 19.2,51.5 17.2,51.9Z"/>
<path fill-rule="evenodd" fill="#2f95e0" d="M16.8,51.4 15.2,51.3 14.5,50.8 13.1,46.5 13.3,34.9 12.6,24.2 12.1,23.2 9.4,20.9 8.5,19.0 8.1,17.5 8.1,16.1 8.4,14.9 9.1,13.6 10.5,12.1 12.1,11.4 15.2,10.7 18.4,10.6 21.9,11.4 25.6,13.6 33.0,14.5 39.6,15.7 40.9,16.2 41.5,17.0 41.5,18.0 40.9,18.8 39.9,19.1 31.6,17.7 26.5,17.3 25.9,17.9 24.7,20.1 23.7,21.4 19.7,24.1 19.5,25.0 19.9,34.6 19.9,49.4 19.7,50.1 19.1,50.7 16.8,51.4Z"/>
<path fill-rule="evenodd" fill="#3cc6e6" d="M17.0,50.6 15.9,50.7 15.2,50.2 13.7,46.1 13.8,44.9 14.6,43.2 14.7,42.4 14.7,35.0 14.2,23.9 13.7,23.1 11.3,21.5 10.0,20.2 9.2,18.6 8.9,16.9 9.1,15.6 9.5,14.5 10.3,13.4 11.3,12.5 13.8,11.5 17.5,11.1 20.3,11.5 22.3,12.5 24.2,14.6 24.7,15.6 24.8,16.6 24.3,18.9 23.2,20.8 21.4,22.1 18.4,23.5 17.8,24.2 18.3,34.8 18.3,49.1 18.0,50.1 17.0,50.6Z"/>
<path fill-rule="evenodd" fill="#84d24a" d="M17.6,22.4 15.8,22.4 13.2,21.6 11.5,20.4 10.4,18.8 10.1,16.9 10.5,15.1 11.7,13.5 13.4,12.4 16.4,11.7 19.2,12.0 21.6,13.2 23.2,15.2 23.5,16.4 23.5,17.6 23.2,18.8 22.5,19.9 20.5,21.5 17.6,22.4ZM15.4,46.7 14.9,46.6 14.6,46.1 14.8,45.5 15.1,45.3 15.5,45.4 15.8,45.9 15.7,46.4 15.4,46.7Z"/>
<path fill-rule="evenodd" fill="#f0e42c" d="M18.0,21.1 16.2,21.2 14.5,20.8 13.0,20.0 12.0,18.8 11.5,17.4 11.7,15.9 12.5,14.5 13.8,13.5 16.0,12.8 18.2,12.9 20.2,13.8 21.6,15.3 22.1,17.1 21.5,18.9 20.1,20.3 18.0,21.1Z"/>
<path fill-rule="evenodd" fill="#f49a22" d="M17.8,20.0 16.4,20.1 15.1,19.8 14.1,19.2 13.3,18.4 13.0,17.4 13.1,16.2 13.6,15.2 14.5,14.5 16.0,14.0 17.8,14.0 19.2,14.6 20.3,15.6 20.7,16.9 20.3,18.2 19.3,19.4 17.8,20.0Z"/>
<path fill-rule="evenodd" fill="#e3161a" d="M17.2,18.8 15.8,18.6 14.8,17.6 14.7,16.4 15.6,15.5 16.5,15.2 17.5,15.3 18.4,15.7 18.9,16.4 19.0,17.1 18.7,17.9 18.1,18.4 17.2,18.8Z"/>
</g>
<rect x="67.4" y="301.6" width="62.6" height="62.3" fill="none" stroke="#b0b0b0" stroke-width="0.9"/>
<line x1="65.60000000000001" y1="307.0" x2="67.80000000000001" y2="307.0" stroke="#555" stroke-width="0.8"/>
<text x="64.0" y="309.1" font-size="6.0" text-anchor="end" fill="#2a2a2a">10<tspan font-size="4.4399999999999995" dy="-2.5">5</tspan></text>
<line x1="65.60000000000001" y1="323.1" x2="67.80000000000001" y2="323.1" stroke="#555" stroke-width="0.8"/>
<text x="64.0" y="325.20000000000005" font-size="6.0" text-anchor="end" fill="#2a2a2a">10<tspan font-size="4.4399999999999995" dy="-2.5">4</tspan></text>
<line x1="65.60000000000001" y1="338.90000000000003" x2="67.80000000000001" y2="338.90000000000003" stroke="#555" stroke-width="0.8"/>
<text x="64.0" y="341.00000000000006" font-size="6.0" text-anchor="end" fill="#2a2a2a">10<tspan font-size="4.4399999999999995" dy="-2.5">3</tspan></text>
<line x1="65.60000000000001" y1="348.90000000000003" x2="67.80000000000001" y2="348.90000000000003" stroke="#555" stroke-width="0.8"/>
<text x="64.0" y="351.00000000000006" font-size="6.0" text-anchor="end" font-weight="normal" fill="#2a2a2a" >0</text>
<line x1="65.60000000000001" y1="359.40000000000003" x2="67.80000000000001" y2="359.40000000000003" stroke="#555" stroke-width="0.8"/>
<text x="64.0" y="361.50000000000006" font-size="6.0" text-anchor="end" fill="#2a2a2a">−10<tspan font-size="4.4399999999999995" dy="-2.5">3</tspan></text>
<line x1="66.2" y1="310.1" x2="67.80000000000001" y2="310.1" stroke="#bbb" stroke-width="0.5"/>
<line x1="66.2" y1="312.1" x2="67.80000000000001" y2="312.1" stroke="#bbb" stroke-width="0.5"/>
<line x1="66.2" y1="314.1" x2="67.80000000000001" y2="314.1" stroke="#bbb" stroke-width="0.5"/>
<line x1="66.2" y1="316.1" x2="67.80000000000001" y2="316.1" stroke="#bbb" stroke-width="0.5"/>
<line x1="66.2" y1="318.1" x2="67.80000000000001" y2="318.1" stroke="#bbb" stroke-width="0.5"/>
<line x1="66.2" y1="320.1" x2="67.80000000000001" y2="320.1" stroke="#bbb" stroke-width="0.5"/>
<line x1="66.2" y1="326.1" x2="67.80000000000001" y2="326.1" stroke="#bbb" stroke-width="0.5"/>
<line x1="66.2" y1="328.1" x2="67.80000000000001" y2="328.1" stroke="#bbb" stroke-width="0.5"/>
<line x1="66.2" y1="330.1" x2="67.80000000000001" y2="330.1" stroke="#bbb" stroke-width="0.5"/>
<line x1="66.2" y1="332.1" x2="67.80000000000001" y2="332.1" stroke="#bbb" stroke-width="0.5"/>
<line x1="66.2" y1="334.1" x2="67.80000000000001" y2="334.1" stroke="#bbb" stroke-width="0.5"/>
<line x1="66.2" y1="336.1" x2="67.80000000000001" y2="336.1" stroke="#bbb" stroke-width="0.5"/>
<line x1="70.4" y1="363.50000000000006" x2="70.4" y2="365.70000000000005" stroke="#555" stroke-width="0.8"/>
<text x="70.4" y="373.6" font-size="6.0" text-anchor="middle" fill="#2a2a2a">−10<tspan font-size="4.4399999999999995" dy="-2.5">3</tspan></text>
<line x1="82.2" y1="363.50000000000006" x2="82.2" y2="365.70000000000005" stroke="#555" stroke-width="0.8"/>
<text x="82.2" y="373.6" font-size="6.0" text-anchor="middle" font-weight="normal" fill="#2a2a2a" >0</text>
<line x1="93.4" y1="363.50000000000006" x2="93.4" y2="365.70000000000005" stroke="#555" stroke-width="0.8"/>
<text x="93.4" y="373.6" font-size="6.0" text-anchor="middle" fill="#2a2a2a">10<tspan font-size="4.4399999999999995" dy="-2.5">3</tspan></text>
<line x1="109.5" y1="363.50000000000006" x2="109.5" y2="365.70000000000005" stroke="#555" stroke-width="0.8"/>
<text x="109.5" y="373.6" font-size="6.0" text-anchor="middle" fill="#2a2a2a">10<tspan font-size="4.4399999999999995" dy="-2.5">4</tspan></text>
<line x1="123.10000000000001" y1="363.50000000000006" x2="123.10000000000001" y2="365.70000000000005" stroke="#555" stroke-width="0.8"/>
<text x="123.10000000000001" y="373.6" font-size="6.0" text-anchor="middle" fill="#2a2a2a">10<tspan font-size="4.4399999999999995" dy="-2.5">5</tspan></text>
<line x1="95.4" y1="363.50000000000006" x2="95.4" y2="365.1" stroke="#bbb" stroke-width="0.5"/>
<line x1="97.4" y1="363.50000000000006" x2="97.4" y2="365.1" stroke="#bbb" stroke-width="0.5"/>
<line x1="99.4" y1="363.50000000000006" x2="99.4" y2="365.1" stroke="#bbb" stroke-width="0.5"/>
<line x1="101.4" y1="363.50000000000006" x2="101.4" y2="365.1" stroke="#bbb" stroke-width="0.5"/>
<line x1="103.4" y1="363.50000000000006" x2="103.4" y2="365.1" stroke="#bbb" stroke-width="0.5"/>
<line x1="105.4" y1="363.50000000000006" x2="105.4" y2="365.1" stroke="#bbb" stroke-width="0.5"/>
<line x1="111.9" y1="363.50000000000006" x2="111.9" y2="365.1" stroke="#bbb" stroke-width="0.5"/>
<line x1="113.9" y1="363.50000000000006" x2="113.9" y2="365.1" stroke="#bbb" stroke-width="0.5"/>
<line x1="115.9" y1="363.50000000000006" x2="115.9" y2="365.1" stroke="#bbb" stroke-width="0.5"/>
<line x1="117.9" y1="363.50000000000006" x2="117.9" y2="365.1" stroke="#bbb" stroke-width="0.5"/>
<line x1="119.9" y1="363.50000000000006" x2="119.9" y2="365.1" stroke="#bbb" stroke-width="0.5"/>
<line x1="121.9" y1="363.50000000000006" x2="121.9" y2="365.1" stroke="#bbb" stroke-width="0.5"/>
<rect x="66.0" y="347.8" width="1.8" height="2.2" fill="#111"/>
<ellipse cx="82.0" cy="364.50000000000006" rx="1.6" ry="0.9" fill="#111"/>
<g transform="translate(150,301)">
<path fill-rule="evenodd" fill="#1a2880" d="M17.1,50.6 14.5,50.7 13.1,50.0 12.1,48.2 10.8,44.4 10.3,30.9 10.4,23.2 10.7,19.0 11.6,17.1 13.8,15.1 17.0,14.1 34.8,10.4 43.8,9.9 45.4,10.4 48.1,12.1 49.1,13.2 49.7,15.0 50.1,17.5 49.9,19.5 48.3,25.0 44.6,32.1 43.3,35.6 43.1,36.9 43.5,41.0 43.3,42.0 42.7,42.9 40.9,44.4 40.5,46.4 40.2,47.1 39.2,47.8 37.9,48.1 27.5,48.2 21.6,49.9 17.1,50.6ZM36.2,44.1 37.6,43.5 38.0,43.1 38.1,42.2 37.5,41.6 35.0,41.3 33.6,41.9 33.1,42.4 33.2,43.2 33.8,43.9 35.1,44.2 36.2,44.1Z"/>
<path fill-rule="evenodd" fill="#2541ae" d="M17.2,50.0 14.9,50.1 13.5,49.4 12.5,47.6 11.5,44.4 11.0,30.9 11.1,23.6 11.6,19.8 12.4,17.8 14.5,16.0 18.4,14.6 34.9,11.2 43.6,10.7 45.1,11.2 47.6,12.7 48.5,13.8 49.1,15.5 49.4,17.6 49.2,19.5 47.6,24.2 45.3,28.1 42.2,35.4 42.0,36.6 42.4,41.6 41.9,42.4 40.0,44.0 39.4,46.4 38.6,46.9 37.6,47.0 26.8,47.3 21.0,49.3 17.2,50.0ZM35.8,45.1 37.8,44.4 38.9,43.4 38.9,42.0 38.0,40.8 36.2,40.4 35.0,40.4 33.1,41.2 32.3,42.0 32.2,43.1 33.0,44.4 34.0,44.9 35.8,45.1Z"/>
<path fill-rule="evenodd" fill="#2262cc" d="M17.0,49.8 14.9,49.8 13.6,49.1 12.7,47.4 11.8,44.4 11.4,30.9 11.5,24.1 11.9,20.6 12.8,18.6 15.2,16.5 18.7,15.0 21.4,14.3 34.5,11.7 43.5,11.0 45.0,11.5 47.4,12.9 48.1,13.8 48.5,14.8 49.1,18.2 47.8,22.9 47.0,24.4 46.2,25.4 45.0,26.1 40.5,26.6 33.6,28.1 30.8,29.0 30.2,29.5 31.8,29.8 42.6,29.3 43.2,29.6 43.4,30.4 41.1,35.8 41.1,37.1 41.6,41.0 41.4,41.8 40.1,42.7 39.3,40.9 38.6,40.2 36.0,39.6 34.4,39.8 31.9,41.1 31.3,42.2 31.4,43.2 32.1,44.6 32.8,45.3 34.0,46.0 25.9,46.5 23.4,48.0 21.5,48.8 19.4,49.4 17.0,49.8ZM38.4,38.4 39.3,37.8 39.3,36.2 38.6,35.7 37.2,35.7 36.6,36.4 36.7,37.8 37.4,38.3 38.4,38.4ZM38.6,45.9 37.5,45.8 38.6,44.8 38.9,45.1 38.6,45.9Z"/>
<path fill-rule="evenodd" fill="#2f95e0" d="M17.1,49.4 15.0,49.4 13.9,48.8 12.9,47.1 12.2,44.4 11.9,30.9 12.1,25.1 12.5,22.1 13.2,20.3 18.0,16.4 19.8,15.5 22.0,14.9 34.5,12.3 40.5,11.7 44.0,11.7 47.0,13.3 48.0,14.8 48.6,18.0 47.8,21.2 46.5,23.6 45.1,24.4 40.1,25.0 28.5,27.6 27.2,28.1 25.7,29.4 24.8,30.8 24.1,34.4 23.2,46.6 22.4,47.6 20.9,48.5 19.2,49.0 17.1,49.4Z"/>
<path fill-rule="evenodd" fill="#3cc6e6" d="M15.9,49.1 14.6,48.9 13.9,48.2 13.0,46.2 12.5,44.2 12.7,41.1 12.6,31.1 12.9,26.7 13.2,23.8 14.1,22.2 16.6,19.9 20.3,17.0 22.5,15.9 39.8,12.4 43.8,12.4 45.1,12.9 46.8,13.8 47.6,15.3 48.1,18.0 47.2,20.6 46.1,22.1 37.5,23.5 27.4,25.8 26.0,26.5 23.5,28.6 22.8,30.0 21.9,35.5 21.6,41.8 22.1,45.0 21.9,46.8 21.1,47.8 19.9,48.5 18.1,48.9 15.9,49.1Z"/>
<path fill-rule="evenodd" fill="#84d24a" d="M16.8,48.8 15.1,48.7 14.2,48.1 13.3,46.1 12.9,44.0 13.7,40.9 13.9,34.2 15.3,25.6 15.7,24.5 17.0,23.1 17.2,21.8 17.5,21.1 18.2,20.8 19.9,20.8 22.2,19.0 23.4,18.4 33.0,16.2 36.2,14.1 38.6,13.3 40.6,13.0 42.6,13.2 44.3,13.8 46.2,14.9 46.9,15.9 47.2,17.5 46.9,18.6 46.0,19.4 42.2,21.2 40.0,21.9 37.6,22.0 33.9,21.6 26.0,23.4 24.6,24.1 21.0,27.2 20.3,28.5 19.4,34.2 19.0,40.4 19.2,41.1 20.9,43.9 21.2,45.0 21.2,46.2 20.7,47.2 19.9,48.0 18.5,48.5 16.8,48.8Z"/>
<path fill-rule="evenodd" fill="#f0e42c" d="M38.9,21.1 36.4,20.8 34.6,19.5 34.2,18.2 35.0,16.4 36.8,14.9 39.1,14.0 41.6,14.0 43.6,14.8 44.4,15.6 44.8,16.6 44.7,17.5 44.1,18.5 43.2,19.5 41.9,20.3 40.4,20.9 38.9,21.1ZM17.0,48.4 15.5,48.4 14.6,48.0 13.9,46.8 13.3,45.0 13.4,43.8 13.9,42.8 14.9,42.0 16.1,41.6 17.5,41.8 19.0,42.7 20.0,43.8 20.4,45.1 20.3,46.4 19.7,47.4 18.7,48.0 17.0,48.4Z"/>
<path fill-rule="evenodd" fill="#f49a22" d="M39.8,20.3 37.8,20.3 36.3,19.6 35.5,18.5 35.7,17.1 36.8,15.8 38.5,14.9 40.4,14.6 42.1,15.0 42.9,15.5 43.4,16.2 43.5,17.0 43.3,17.9 42.0,19.4 39.8,20.3ZM17.0,48.0 15.8,48.0 15.0,47.8 14.4,47.0 13.9,45.8 13.8,44.6 14.0,43.8 14.8,43.0 15.8,42.6 17.0,42.6 18.2,43.0 19.1,43.8 19.6,44.9 19.6,46.0 19.2,47.0 18.4,47.6 17.0,48.0Z"/>
<path fill-rule="evenodd" fill="#e3161a" d="M39.8,19.4 38.4,19.4 37.4,19.0 36.8,18.2 36.9,17.4 37.5,16.5 38.6,15.8 39.9,15.5 41.1,15.7 42.1,16.5 42.1,17.6 41.2,18.7 39.8,19.4ZM16.9,47.5 16.0,47.5 15.2,47.2 14.4,45.8 14.4,44.9 14.6,44.3 15.2,43.7 16.0,43.4 16.9,43.4 17.8,43.7 18.4,44.2 18.8,45.1 18.7,46.0 18.4,46.8 17.7,47.2 16.9,47.5Z"/>
</g>
<rect x="149.8" y="301.6" width="62.6" height="62.3" fill="none" stroke="#b0b0b0" stroke-width="0.9"/>
<line x1="148.0" y1="307.0" x2="150.20000000000002" y2="307.0" stroke="#555" stroke-width="0.8"/>
<text x="146.4" y="309.1" font-size="6.0" text-anchor="end" fill="#2a2a2a">10<tspan font-size="4.4399999999999995" dy="-2.5">5</tspan></text>
<line x1="148.0" y1="323.1" x2="150.20000000000002" y2="323.1" stroke="#555" stroke-width="0.8"/>
<text x="146.4" y="325.20000000000005" font-size="6.0" text-anchor="end" fill="#2a2a2a">10<tspan font-size="4.4399999999999995" dy="-2.5">4</tspan></text>
<line x1="148.0" y1="338.90000000000003" x2="150.20000000000002" y2="338.90000000000003" stroke="#555" stroke-width="0.8"/>
<text x="146.4" y="341.00000000000006" font-size="6.0" text-anchor="end" fill="#2a2a2a">10<tspan font-size="4.4399999999999995" dy="-2.5">3</tspan></text>
<line x1="148.0" y1="348.90000000000003" x2="150.20000000000002" y2="348.90000000000003" stroke="#555" stroke-width="0.8"/>
<text x="146.4" y="351.00000000000006" font-size="6.0" text-anchor="end" font-weight="normal" fill="#2a2a2a" >0</text>
<line x1="148.0" y1="359.40000000000003" x2="150.20000000000002" y2="359.40000000000003" stroke="#555" stroke-width="0.8"/>
<text x="146.4" y="361.50000000000006" font-size="6.0" text-anchor="end" fill="#2a2a2a">−10<tspan font-size="4.4399999999999995" dy="-2.5">3</tspan></text>
<line x1="148.60000000000002" y1="310.1" x2="150.20000000000002" y2="310.1" stroke="#bbb" stroke-width="0.5"/>
<line x1="148.60000000000002" y1="312.1" x2="150.20000000000002" y2="312.1" stroke="#bbb" stroke-width="0.5"/>
<line x1="148.60000000000002" y1="314.1" x2="150.20000000000002" y2="314.1" stroke="#bbb" stroke-width="0.5"/>
<line x1="148.60000000000002" y1="316.1" x2="150.20000000000002" y2="316.1" stroke="#bbb" stroke-width="0.5"/>
<line x1="148.60000000000002" y1="318.1" x2="150.20000000000002" y2="318.1" stroke="#bbb" stroke-width="0.5"/>
<line x1="148.60000000000002" y1="320.1" x2="150.20000000000002" y2="320.1" stroke="#bbb" stroke-width="0.5"/>
<line x1="148.60000000000002" y1="326.1" x2="150.20000000000002" y2="326.1" stroke="#bbb" stroke-width="0.5"/>
<line x1="148.60000000000002" y1="328.1" x2="150.20000000000002" y2="328.1" stroke="#bbb" stroke-width="0.5"/>
<line x1="148.60000000000002" y1="330.1" x2="150.20000000000002" y2="330.1" stroke="#bbb" stroke-width="0.5"/>
<line x1="148.60000000000002" y1="332.1" x2="150.20000000000002" y2="332.1" stroke="#bbb" stroke-width="0.5"/>
<line x1="148.60000000000002" y1="334.1" x2="150.20000000000002" y2="334.1" stroke="#bbb" stroke-width="0.5"/>
<line x1="148.60000000000002" y1="336.1" x2="150.20000000000002" y2="336.1" stroke="#bbb" stroke-width="0.5"/>
<line x1="152.8" y1="363.50000000000006" x2="152.8" y2="365.70000000000005" stroke="#555" stroke-width="0.8"/>
<text x="152.8" y="373.6" font-size="6.0" text-anchor="middle" fill="#2a2a2a">−10<tspan font-size="4.4399999999999995" dy="-2.5">3</tspan></text>
<line x1="164.60000000000002" y1="363.50000000000006" x2="164.60000000000002" y2="365.70000000000005" stroke="#555" stroke-width="0.8"/>
<text x="164.60000000000002" y="373.6" font-size="6.0" text-anchor="middle" font-weight="normal" fill="#2a2a2a" >0</text>
<line x1="175.8" y1="363.50000000000006" x2="175.8" y2="365.70000000000005" stroke="#555" stroke-width="0.8"/>
<text x="175.8" y="373.6" font-size="6.0" text-anchor="middle" fill="#2a2a2a">10<tspan font-size="4.4399999999999995" dy="-2.5">3</tspan></text>
<line x1="191.9" y1="363.50000000000006" x2="191.9" y2="365.70000000000005" stroke="#555" stroke-width="0.8"/>
<text x="191.9" y="373.6" font-size="6.0" text-anchor="middle" fill="#2a2a2a">10<tspan font-size="4.4399999999999995" dy="-2.5">4</tspan></text>
<line x1="205.5" y1="363.50000000000006" x2="205.5" y2="365.70000000000005" stroke="#555" stroke-width="0.8"/>
<text x="205.5" y="373.6" font-size="6.0" text-anchor="middle" fill="#2a2a2a">10<tspan font-size="4.4399999999999995" dy="-2.5">5</tspan></text>
<line x1="177.8" y1="363.50000000000006" x2="177.8" y2="365.1" stroke="#bbb" stroke-width="0.5"/>
<line x1="179.8" y1="363.50000000000006" x2="179.8" y2="365.1" stroke="#bbb" stroke-width="0.5"/>
<line x1="181.8" y1="363.50000000000006" x2="181.8" y2="365.1" stroke="#bbb" stroke-width="0.5"/>
<line x1="183.8" y1="363.50000000000006" x2="183.8" y2="365.1" stroke="#bbb" stroke-width="0.5"/>
<line x1="185.8" y1="363.50000000000006" x2="185.8" y2="365.1" stroke="#bbb" stroke-width="0.5"/>
<line x1="187.8" y1="363.50000000000006" x2="187.8" y2="365.1" stroke="#bbb" stroke-width="0.5"/>
<line x1="194.3" y1="363.50000000000006" x2="194.3" y2="365.1" stroke="#bbb" stroke-width="0.5"/>
<line x1="196.3" y1="363.50000000000006" x2="196.3" y2="365.1" stroke="#bbb" stroke-width="0.5"/>
<line x1="198.3" y1="363.50000000000006" x2="198.3" y2="365.1" stroke="#bbb" stroke-width="0.5"/>
<line x1="200.3" y1="363.50000000000006" x2="200.3" y2="365.1" stroke="#bbb" stroke-width="0.5"/>
<line x1="202.3" y1="363.50000000000006" x2="202.3" y2="365.1" stroke="#bbb" stroke-width="0.5"/>
<line x1="204.3" y1="363.50000000000006" x2="204.3" y2="365.1" stroke="#bbb" stroke-width="0.5"/>
<rect x="148.4" y="347.8" width="1.8" height="2.2" fill="#111"/>
<ellipse cx="164.4" cy="364.50000000000006" rx="1.6" ry="0.9" fill="#111"/>
<g transform="translate(232,301)">
<path fill-rule="evenodd" fill="#1a2880" d="M16.5,51.6 15.1,51.5 14.1,50.9 13.4,49.8 12.7,47.5 11.9,43.1 11.0,30.5 8.4,24.5 7.2,20.9 6.1,14.0 6.4,12.5 8.0,11.1 9.2,10.5 15.5,10.1 20.8,10.8 29.0,12.5 40.0,13.8 41.2,14.2 42.3,15.5 43.0,17.1 42.3,21.9 41.5,23.6 39.0,25.5 38.1,25.8 37.1,25.6 31.6,22.7 27.0,22.2 25.5,22.7 22.9,25.1 22.4,26.2 21.3,32.6 20.9,44.1 20.5,49.4 20.1,50.2 19.4,50.9 16.5,51.6Z"/>
<path fill-rule="evenodd" fill="#2541ae" d="M16.6,50.9 15.4,50.8 14.5,50.2 13.8,49.0 13.2,47.1 12.6,43.1 11.8,30.4 9.2,24.5 7.9,20.8 7.3,13.9 7.5,13.0 8.6,12.0 9.8,11.5 13.0,11.0 15.5,10.9 27.9,13.5 34.1,14.5 39.9,15.0 40.6,15.3 41.4,16.2 41.8,17.4 41.1,21.9 40.4,23.1 38.6,24.4 37.9,24.5 37.2,24.4 32.0,21.5 27.0,21.0 25.2,21.5 22.1,24.4 21.0,27.6 20.5,31.2 19.7,48.9 19.4,49.7 18.8,50.2 16.6,50.9Z"/>
<path fill-rule="evenodd" fill="#2262cc" d="M16.8,50.5 15.6,50.5 14.8,50.0 14.1,49.0 13.6,47.5 13.2,45.2 12.2,30.2 9.2,23.6 8.3,21.0 8.0,19.1 8.1,15.5 9.2,13.4 10.6,12.0 13.6,11.3 16.6,11.4 19.3,12.5 20.4,13.9 21.2,15.5 21.8,17.4 22.1,19.4 21.9,23.1 19.9,28.5 19.7,41.9 19.3,48.6 18.6,49.9 16.8,50.5Z"/>
<path fill-rule="evenodd" fill="#2f95e0" d="M16.5,50.0 15.6,49.9 15.0,49.5 13.9,47.4 13.7,45.8 13.4,35.8 12.9,30.1 9.8,24.0 8.8,21.1 8.5,19.1 8.7,16.5 10.0,13.9 11.8,12.3 14.0,11.8 16.9,12.1 17.8,12.5 18.8,13.4 20.4,16.1 21.2,19.6 21.1,21.8 20.7,23.9 18.5,28.8 19.0,35.4 18.6,48.4 18.1,49.4 16.5,50.0Z"/>
<path fill-rule="evenodd" fill="#3cc6e6" d="M16.4,49.4 15.6,49.3 15.0,48.8 14.4,47.8 14.1,46.5 14.1,45.2 14.6,42.8 14.4,35.2 13.8,29.6 13.5,28.9 11.9,27.1 10.8,25.1 9.5,21.9 9.0,19.5 9.3,17.0 10.5,14.6 12.2,13.0 14.2,12.5 16.6,12.9 18.4,14.2 19.8,16.8 20.4,19.9 20.3,22.1 19.8,24.4 18.9,26.1 17.3,28.1 17.1,28.9 17.6,35.2 17.6,47.6 17.3,48.8 16.4,49.4Z"/>
<path fill-rule="evenodd" fill="#84d24a" d="M15.1,27.5 13.2,27.2 11.9,25.9 10.4,22.9 9.8,20.0 10.0,17.8 11.1,15.5 12.6,14.1 14.4,13.6 16.2,14.0 17.9,15.3 19.0,17.4 19.5,20.0 19.3,22.6 18.5,24.9 17.0,26.6 15.1,27.5ZM16.0,48.5 15.6,48.5 15.1,48.2 14.5,46.8 14.6,45.4 15.2,44.7 16.0,45.0 16.4,46.1 16.5,47.6 16.0,48.5Z"/>
<path fill-rule="evenodd" fill="#f0e42c" d="M15.2,25.8 13.8,25.7 12.4,24.8 11.4,23.2 10.8,21.0 10.9,18.9 11.7,17.0 12.9,15.7 14.4,15.2 15.8,15.4 17.0,16.4 18.0,18.0 18.4,19.9 18.3,21.9 17.7,23.8 16.6,25.1 15.2,25.8ZM15.4,46.8 15.4,46.6 15.4,46.8Z"/>
<path fill-rule="evenodd" fill="#f49a22" d="M14.9,24.3 13.8,24.1 12.8,23.4 12.1,22.1 11.9,20.8 12.0,19.2 12.5,18.0 13.4,17.1 14.5,16.7 15.5,16.9 16.4,17.6 17.0,18.8 17.3,20.2 17.2,21.8 16.7,23.0 15.9,23.8 14.9,24.3Z"/>
<path fill-rule="evenodd" fill="#e3161a" d="M14.9,22.4 14.2,22.4 13.8,22.1 13.2,20.8 13.5,19.2 14.5,18.6 15.5,19.0 16.0,20.2 15.8,21.6 14.9,22.4Z"/>
</g>
<rect x="232.1" y="301.6" width="62.6" height="62.3" fill="none" stroke="#b0b0b0" stroke-width="0.9"/>
<line x1="230.29999999999998" y1="307.0" x2="232.5" y2="307.0" stroke="#555" stroke-width="0.8"/>
<text x="228.7" y="309.1" font-size="6.0" text-anchor="end" fill="#2a2a2a">10<tspan font-size="4.4399999999999995" dy="-2.5">5</tspan></text>
<line x1="230.29999999999998" y1="323.1" x2="232.5" y2="323.1" stroke="#555" stroke-width="0.8"/>
<text x="228.7" y="325.20000000000005" font-size="6.0" text-anchor="end" fill="#2a2a2a">10<tspan font-size="4.4399999999999995" dy="-2.5">4</tspan></text>
<line x1="230.29999999999998" y1="338.90000000000003" x2="232.5" y2="338.90000000000003" stroke="#555" stroke-width="0.8"/>
<text x="228.7" y="341.00000000000006" font-size="6.0" text-anchor="end" fill="#2a2a2a">10<tspan font-size="4.4399999999999995" dy="-2.5">3</tspan></text>
<line x1="230.29999999999998" y1="348.90000000000003" x2="232.5" y2="348.90000000000003" stroke="#555" stroke-width="0.8"/>
<text x="228.7" y="351.00000000000006" font-size="6.0" text-anchor="end" font-weight="normal" fill="#2a2a2a" >0</text>
<line x1="230.29999999999998" y1="359.40000000000003" x2="232.5" y2="359.40000000000003" stroke="#555" stroke-width="0.8"/>
<text x="228.7" y="361.50000000000006" font-size="6.0" text-anchor="end" fill="#2a2a2a">−10<tspan font-size="4.4399999999999995" dy="-2.5">3</tspan></text>
<line x1="230.9" y1="310.1" x2="232.5" y2="310.1" stroke="#bbb" stroke-width="0.5"/>
<line x1="230.9" y1="312.1" x2="232.5" y2="312.1" stroke="#bbb" stroke-width="0.5"/>
<line x1="230.9" y1="314.1" x2="232.5" y2="314.1" stroke="#bbb" stroke-width="0.5"/>
<line x1="230.9" y1="316.1" x2="232.5" y2="316.1" stroke="#bbb" stroke-width="0.5"/>
<line x1="230.9" y1="318.1" x2="232.5" y2="318.1" stroke="#bbb" stroke-width="0.5"/>
<line x1="230.9" y1="320.1" x2="232.5" y2="320.1" stroke="#bbb" stroke-width="0.5"/>
<line x1="230.9" y1="326.1" x2="232.5" y2="326.1" stroke="#bbb" stroke-width="0.5"/>
<line x1="230.9" y1="328.1" x2="232.5" y2="328.1" stroke="#bbb" stroke-width="0.5"/>
<line x1="230.9" y1="330.1" x2="232.5" y2="330.1" stroke="#bbb" stroke-width="0.5"/>
<line x1="230.9" y1="332.1" x2="232.5" y2="332.1" stroke="#bbb" stroke-width="0.5"/>
<line x1="230.9" y1="334.1" x2="232.5" y2="334.1" stroke="#bbb" stroke-width="0.5"/>
<line x1="230.9" y1="336.1" x2="232.5" y2="336.1" stroke="#bbb" stroke-width="0.5"/>
<line x1="235.1" y1="363.50000000000006" x2="235.1" y2="365.70000000000005" stroke="#555" stroke-width="0.8"/>
<text x="235.1" y="373.6" font-size="6.0" text-anchor="middle" fill="#2a2a2a">−10<tspan font-size="4.4399999999999995" dy="-2.5">3</tspan></text>
<line x1="246.9" y1="363.50000000000006" x2="246.9" y2="365.70000000000005" stroke="#555" stroke-width="0.8"/>
<text x="246.9" y="373.6" font-size="6.0" text-anchor="middle" font-weight="normal" fill="#2a2a2a" >0</text>
<line x1="258.1" y1="363.50000000000006" x2="258.1" y2="365.70000000000005" stroke="#555" stroke-width="0.8"/>
<text x="258.1" y="373.6" font-size="6.0" text-anchor="middle" fill="#2a2a2a">10<tspan font-size="4.4399999999999995" dy="-2.5">3</tspan></text>
<line x1="274.2" y1="363.50000000000006" x2="274.2" y2="365.70000000000005" stroke="#555" stroke-width="0.8"/>
<text x="274.2" y="373.6" font-size="6.0" text-anchor="middle" fill="#2a2a2a">10<tspan font-size="4.4399999999999995" dy="-2.5">4</tspan></text>
<line x1="287.8" y1="363.50000000000006" x2="287.8" y2="365.70000000000005" stroke="#555" stroke-width="0.8"/>
<text x="287.8" y="373.6" font-size="6.0" text-anchor="middle" fill="#2a2a2a">10<tspan font-size="4.4399999999999995" dy="-2.5">5</tspan></text>
<line x1="260.1" y1="363.50000000000006" x2="260.1" y2="365.1" stroke="#bbb" stroke-width="0.5"/>
<line x1="262.1" y1="363.50000000000006" x2="262.1" y2="365.1" stroke="#bbb" stroke-width="0.5"/>
<line x1="264.1" y1="363.50000000000006" x2="264.1" y2="365.1" stroke="#bbb" stroke-width="0.5"/>
<line x1="266.1" y1="363.50000000000006" x2="266.1" y2="365.1" stroke="#bbb" stroke-width="0.5"/>
<line x1="268.1" y1="363.50000000000006" x2="268.1" y2="365.1" stroke="#bbb" stroke-width="0.5"/>
<line x1="270.1" y1="363.50000000000006" x2="270.1" y2="365.1" stroke="#bbb" stroke-width="0.5"/>
<line x1="276.6" y1="363.50000000000006" x2="276.6" y2="365.1" stroke="#bbb" stroke-width="0.5"/>
<line x1="278.6" y1="363.50000000000006" x2="278.6" y2="365.1" stroke="#bbb" stroke-width="0.5"/>
<line x1="280.6" y1="363.50000000000006" x2="280.6" y2="365.1" stroke="#bbb" stroke-width="0.5"/>
<line x1="282.6" y1="363.50000000000006" x2="282.6" y2="365.1" stroke="#bbb" stroke-width="0.5"/>
<line x1="284.6" y1="363.50000000000006" x2="284.6" y2="365.1" stroke="#bbb" stroke-width="0.5"/>
<line x1="286.6" y1="363.50000000000006" x2="286.6" y2="365.1" stroke="#bbb" stroke-width="0.5"/>
<rect x="230.7" y="347.8" width="1.8" height="2.2" fill="#111"/>
<ellipse cx="246.7" cy="364.50000000000006" rx="1.6" ry="0.9" fill="#111"/>
<rect x="77.2" y="56.8" width="12.8" height="34.0" fill="none" stroke="#666" stroke-width="0.8"/>
<rect x="160.4" y="56.8" width="11.999999999999998" height="34.0" fill="none" stroke="#666" stroke-width="0.8"/>
<rect x="242.4" y="56.8" width="12.4" height="34.0" fill="none" stroke="#666" stroke-width="0.8"/>
<rect x="77.2" y="133.8" width="12.8" height="34.400000000000006" fill="none" stroke="#666" stroke-width="0.8"/>
<rect x="160.4" y="133.8" width="11.999999999999998" height="34.400000000000006" fill="none" stroke="#666" stroke-width="0.8"/>
<rect x="242.4" y="133.8" width="12.4" height="34.400000000000006" fill="none" stroke="#666" stroke-width="0.8"/>
<rect x="93.8" y="231.6" width="28.8" height="27.9" fill="none" stroke="#666" stroke-width="0.8"/>
<rect x="175.8" y="231.6" width="28.8" height="27.9" fill="none" stroke="#666" stroke-width="0.8"/>
<rect x="257.8" y="231.6" width="28.8" height="27.9" fill="none" stroke="#666" stroke-width="0.8"/>
<rect x="93.8" y="308.6" width="28.8" height="27.9" fill="none" stroke="#666" stroke-width="0.8"/>
<rect x="175.8" y="308.6" width="28.8" height="27.9" fill="none" stroke="#666" stroke-width="0.8"/>
<rect x="257.8" y="308.6" width="28.8" height="27.9" fill="none" stroke="#666" stroke-width="0.8"/>
<text x="103.2" y="62.1" font-size="7.0" text-anchor="middle" font-weight="normal" fill="#1e1e1e" >NK</text>
<text x="103.2" y="70.4" font-size="7.0" text-anchor="middle" font-weight="normal" fill="#1e1e1e" >0.34</text>
<text x="185.2" y="62.1" font-size="7.0" text-anchor="middle" font-weight="normal" fill="#1e1e1e" >NK</text>
<text x="185.2" y="70.4" font-size="7.0" text-anchor="middle" font-weight="normal" fill="#1e1e1e" >15.0</text>
<text x="267.2" y="62.1" font-size="7.0" text-anchor="middle" font-weight="normal" fill="#1e1e1e" >NK</text>
<text x="267.2" y="70.4" font-size="7.0" text-anchor="middle" font-weight="normal" fill="#1e1e1e" >76.7</text>
<text x="103.2" y="139.1" font-size="7.0" text-anchor="middle" font-weight="normal" fill="#1e1e1e" >NK</text>
<text x="103.2" y="147.4" font-size="7.0" text-anchor="middle" font-weight="normal" fill="#1e1e1e" >21.3</text>
<text x="185.2" y="139.1" font-size="7.0" text-anchor="middle" font-weight="normal" fill="#1e1e1e" >NK</text>
<text x="185.2" y="147.4" font-size="7.0" text-anchor="middle" font-weight="normal" fill="#1e1e1e" >34.5</text>
<text x="267.2" y="139.1" font-size="7.0" text-anchor="middle" font-weight="normal" fill="#1e1e1e" >NK</text>
<text x="267.2" y="147.4" font-size="7.0" text-anchor="middle" font-weight="normal" fill="#1e1e1e" >83.9</text>
<text x="127" y="279" font-size="7.2" text-anchor="end" font-weight="normal" fill="#222" >25.7</text>
<text x="209" y="279" font-size="7.2" text-anchor="end" font-weight="normal" fill="#222" >53.4</text>
<text x="291" y="279" font-size="7.2" text-anchor="end" font-weight="normal" fill="#222" >8.49</text>
<text x="127" y="356" font-size="7.2" text-anchor="end" font-weight="normal" fill="#222" >6.96</text>
<text x="209" y="356" font-size="7.2" text-anchor="end" font-weight="normal" fill="#222" >43.5</text>
<text x="291" y="356" font-size="7.2" text-anchor="end" font-weight="normal" fill="#222" >2.44</text>
<text x="376" y="31.3" font-size="7" text-anchor="middle" font-weight="normal" fill="#222" textLength="23.5" lengthAdjust="spacingAndGlyphs" >NKG2D</text>
<text x="479.3" y="31.3" font-size="7" text-anchor="middle" font-weight="normal" fill="#222" textLength="22" lengthAdjust="spacingAndGlyphs" >NKp30</text>
<text x="377" y="127.8" font-size="7" text-anchor="middle" font-weight="normal" fill="#222" textLength="22.5" lengthAdjust="spacingAndGlyphs" >NKp46</text>
<text x="479.5" y="126.8" font-size="7" text-anchor="middle" font-weight="normal" fill="#222" textLength="24" lengthAdjust="spacingAndGlyphs" >DNAM1</text>
<line x1="344.3" y1="36.3" x2="344.3" y2="104.0" stroke="#333" stroke-width="1.1"/>
<line x1="343.8" y1="103.4" x2="410" y2="103.4" stroke="#333" stroke-width="1.1"/>
<line x1="340.8" y1="103.40" x2="344.3" y2="103.40" stroke="#333" stroke-width="0.9"/>
<text x="337.5" y="105.80000000000001" font-size="6.7" text-anchor="end" font-weight="normal" fill="#2a2a2a" >0</text>
<line x1="340.8" y1="81.80" x2="344.3" y2="81.80" stroke="#333" stroke-width="0.9"/>
<text x="337.5" y="84.2" font-size="6.7" text-anchor="end" font-weight="normal" fill="#2a2a2a" >2</text>
<line x1="340.8" y1="60.20" x2="344.3" y2="60.20" stroke="#333" stroke-width="0.9"/>
<text x="337.5" y="62.599999999999994" font-size="6.7" text-anchor="end" font-weight="normal" fill="#2a2a2a" >4</text>
<line x1="340.8" y1="38.60" x2="344.3" y2="38.60" stroke="#333" stroke-width="0.9"/>
<text x="337.5" y="40.99999999999999" font-size="6.7" text-anchor="end" font-weight="normal" fill="#2a2a2a" >6</text>
<line x1="356.8" y1="103.4" x2="356.8" y2="106.60000000000001" stroke="#333" stroke-width="0.9"/>
<text x="356.8" y="116" font-size="6.7" text-anchor="middle" font-weight="normal" fill="#2a2a2a" >0</text>
<line x1="376.2" y1="103.4" x2="376.2" y2="106.60000000000001" stroke="#333" stroke-width="0.9"/>
<text x="376.2" y="116" font-size="6.7" text-anchor="middle" font-weight="normal" fill="#2a2a2a" >5</text>
<line x1="395.9" y1="103.4" x2="395.9" y2="106.60000000000001" stroke="#333" stroke-width="0.9"/>
<text x="395.9" y="116" font-size="6.7" text-anchor="middle" font-weight="normal" fill="#2a2a2a" >8</text>
<path d="M356.80,62.90 L376.20,53.72 L395.90,81.80" fill="none" stroke="#b01c3a" stroke-width="1.25"/>
<circle cx="356.80" cy="62.90" r="1.4" fill="#b01c3a"/>
<circle cx="376.20" cy="53.72" r="1.4" fill="#b01c3a"/>
<circle cx="395.90" cy="81.80" r="1.4" fill="#b01c3a"/>
<path d="M356.80,77.48 L376.20,46.16 L395.90,81.80" fill="none" stroke="#b01c3a" stroke-width="1.25"/>
<circle cx="356.80" cy="77.48" r="1.5" fill="#b01c3a"/>
<circle cx="376.20" cy="46.16" r="1.5" fill="#b01c3a"/>
<circle cx="395.90" cy="81.80" r="1.5" fill="#b01c3a"/>
<line x1="447.2" y1="37.4" x2="447.2" y2="104.0" stroke="#333" stroke-width="1.1"/>
<line x1="446.7" y1="103.4" x2="511.7" y2="103.4" stroke="#333" stroke-width="1.1"/>
<line x1="443.7" y1="103.40" x2="447.2" y2="103.40" stroke="#333" stroke-width="0.9"/>
<text x="440.4" y="105.80000000000001" font-size="6.7" text-anchor="end" font-weight="normal" fill="#2a2a2a" >0</text>
<line x1="443.7" y1="81.87" x2="447.2" y2="81.87" stroke="#333" stroke-width="0.9"/>
<text x="440.4" y="84.26666666666668" font-size="6.7" text-anchor="end" font-weight="normal" fill="#2a2a2a" >5</text>
<line x1="443.7" y1="60.33" x2="447.2" y2="60.33" stroke="#333" stroke-width="0.9"/>
<text x="440.4" y="62.73333333333333" font-size="6.7" text-anchor="end" font-weight="normal" fill="#2a2a2a" >10</text>
<line x1="443.7" y1="38.80" x2="447.2" y2="38.80" stroke="#333" stroke-width="0.9"/>
<text x="440.4" y="41.199999999999996" font-size="6.7" text-anchor="end" font-weight="normal" fill="#2a2a2a" >15</text>
<line x1="460.3" y1="103.4" x2="460.3" y2="106.60000000000001" stroke="#333" stroke-width="0.9"/>
<text x="460.3" y="117" font-size="6.7" text-anchor="middle" font-weight="normal" fill="#2a2a2a" >0</text>
<line x1="479.8" y1="103.4" x2="479.8" y2="106.60000000000001" stroke="#333" stroke-width="0.9"/>
<text x="479.8" y="117" font-size="6.7" text-anchor="middle" font-weight="normal" fill="#2a2a2a" >5</text>
<line x1="499.7" y1="103.4" x2="499.7" y2="106.60000000000001" stroke="#333" stroke-width="0.9"/>
<text x="499.7" y="117" font-size="6.7" text-anchor="middle" font-weight="normal" fill="#2a2a2a" >8</text>
<path d="M460.30,87.03 L479.80,66.79 L499.70,90.48" fill="none" stroke="#b01c3a" stroke-width="1.25"/>
<circle cx="460.30" cy="87.03" r="1.4" fill="#b01c3a"/>
<circle cx="479.80" cy="66.79" r="1.4" fill="#b01c3a"/>
<circle cx="499.70" cy="90.48" r="1.4" fill="#b01c3a"/>
<path d="M460.30,91.77 L479.80,53.87 L499.70,90.48" fill="none" stroke="#b01c3a" stroke-width="1.25"/>
<circle cx="460.30" cy="91.77" r="1.5" fill="#b01c3a"/>
<circle cx="479.80" cy="53.87" r="1.5" fill="#b01c3a"/>
<circle cx="499.70" cy="90.48" r="1.5" fill="#b01c3a"/>
<line x1="344.4" y1="132.1" x2="344.4" y2="200.4" stroke="#333" stroke-width="1.1"/>
<line x1="343.9" y1="199.8" x2="408.6" y2="199.8" stroke="#333" stroke-width="1.1"/>
<line x1="340.9" y1="199.80" x2="344.4" y2="199.80" stroke="#333" stroke-width="0.9"/>
<text x="337.59999999999997" y="202.20000000000002" font-size="6.7" text-anchor="end" font-weight="normal" fill="#2a2a2a" >0</text>
<line x1="340.9" y1="186.86" x2="344.4" y2="186.86" stroke="#333" stroke-width="0.9"/>
<text x="337.59999999999997" y="189.26000000000002" font-size="6.7" text-anchor="end" font-weight="normal" fill="#2a2a2a" >2</text>
<line x1="340.9" y1="173.92" x2="344.4" y2="173.92" stroke="#333" stroke-width="0.9"/>
<text x="337.59999999999997" y="176.32000000000002" font-size="6.7" text-anchor="end" font-weight="normal" fill="#2a2a2a" >4</text>
<line x1="340.9" y1="160.98" x2="344.4" y2="160.98" stroke="#333" stroke-width="0.9"/>
<text x="337.59999999999997" y="163.38000000000002" font-size="6.7" text-anchor="end" font-weight="normal" fill="#2a2a2a" >6</text>
<line x1="340.9" y1="148.04" x2="344.4" y2="148.04" stroke="#333" stroke-width="0.9"/>
<text x="337.59999999999997" y="150.44" font-size="6.7" text-anchor="end" font-weight="normal" fill="#2a2a2a" >8</text>
<line x1="340.9" y1="135.10" x2="344.4" y2="135.10" stroke="#333" stroke-width="0.9"/>
<text x="337.59999999999997" y="137.5" font-size="6.7" text-anchor="end" font-weight="normal" fill="#2a2a2a" >10</text>
<line x1="357.2" y1="199.8" x2="357.2" y2="203.0" stroke="#333" stroke-width="0.9"/>
<text x="357.2" y="212" font-size="6.7" text-anchor="middle" font-weight="normal" fill="#2a2a2a" >0</text>
<line x1="376.6" y1="199.8" x2="376.6" y2="203.0" stroke="#333" stroke-width="0.9"/>
<text x="376.6" y="212" font-size="6.7" text-anchor="middle" font-weight="normal" fill="#2a2a2a" >5</text>
<line x1="396.5" y1="199.8" x2="396.5" y2="203.0" stroke="#333" stroke-width="0.9"/>
<text x="396.5" y="212" font-size="6.7" text-anchor="middle" font-weight="normal" fill="#2a2a2a" >8</text>
<path d="M357.20,176.51 L376.60,171.98 L396.50,138.98" fill="none" stroke="#b01c3a" stroke-width="1.25"/>
<circle cx="357.20" cy="176.51" r="1.4" fill="#b01c3a"/>
<circle cx="376.60" cy="171.98" r="1.4" fill="#b01c3a"/>
<circle cx="396.50" cy="138.98" r="1.4" fill="#b01c3a"/>
<path d="M357.20,181.68 L376.60,165.51 L396.50,144.81" fill="none" stroke="#b01c3a" stroke-width="1.25"/>
<circle cx="357.20" cy="181.68" r="1.5" fill="#b01c3a"/>
<circle cx="376.60" cy="165.51" r="1.5" fill="#b01c3a"/>
<circle cx="396.50" cy="144.81" r="1.5" fill="#b01c3a"/>
<line x1="448.2" y1="133.1" x2="448.2" y2="200.4" stroke="#333" stroke-width="1.1"/>
<line x1="447.7" y1="199.8" x2="511.7" y2="199.8" stroke="#333" stroke-width="1.1"/>
<line x1="444.7" y1="199.80" x2="448.2" y2="199.80" stroke="#333" stroke-width="0.9"/>
<text x="441.4" y="202.20000000000002" font-size="6.7" text-anchor="end" font-weight="normal" fill="#2a2a2a" >0</text>
<line x1="444.7" y1="178.23" x2="448.2" y2="178.23" stroke="#333" stroke-width="0.9"/>
<text x="441.4" y="180.63333333333335" font-size="6.7" text-anchor="end" font-weight="normal" fill="#2a2a2a" >1</text>
<line x1="444.7" y1="156.67" x2="448.2" y2="156.67" stroke="#333" stroke-width="0.9"/>
<text x="441.4" y="159.06666666666666" font-size="6.7" text-anchor="end" font-weight="normal" fill="#2a2a2a" >2</text>
<line x1="444.7" y1="135.10" x2="448.2" y2="135.10" stroke="#333" stroke-width="0.9"/>
<text x="441.4" y="137.5" font-size="6.7" text-anchor="end" font-weight="normal" fill="#2a2a2a" >3</text>
<line x1="460.7" y1="199.8" x2="460.7" y2="203.0" stroke="#333" stroke-width="0.9"/>
<text x="460.7" y="213" font-size="6.7" text-anchor="middle" font-weight="normal" fill="#2a2a2a" >0</text>
<line x1="480.3" y1="199.8" x2="480.3" y2="203.0" stroke="#333" stroke-width="0.9"/>
<text x="480.3" y="213" font-size="6.7" text-anchor="middle" font-weight="normal" fill="#2a2a2a" >5</text>
<line x1="499.2" y1="199.8" x2="499.2" y2="203.0" stroke="#333" stroke-width="0.9"/>
<text x="499.2" y="213" font-size="6.7" text-anchor="middle" font-weight="normal" fill="#2a2a2a" >8</text>
<path d="M460.70,169.18 L480.30,160.55 L499.20,146.31" fill="none" stroke="#b01c3a" stroke-width="1.25"/>
<circle cx="460.70" cy="169.18" r="1.4" fill="#b01c3a"/>
<circle cx="480.30" cy="160.55" r="1.4" fill="#b01c3a"/>
<circle cx="499.20" cy="146.31" r="1.4" fill="#b01c3a"/>
<path d="M460.70,173.49 L480.30,169.18 L499.20,158.82" fill="none" stroke="#b01c3a" stroke-width="1.25"/>
<circle cx="460.70" cy="173.49" r="1.5" fill="#b01c3a"/>
<circle cx="480.30" cy="169.18" r="1.5" fill="#b01c3a"/>
<circle cx="499.20" cy="158.82" r="1.5" fill="#b01c3a"/>
<text transform="translate(323.0,105.5) rotate(-90)" font-size="9" fill="#1a1a1a" stroke="#1a1a1a" stroke-width="0.25" text-anchor="middle" textLength="82" lengthAdjust="spacingAndGlyphs">Mean of fluorescence (×10<tspan font-size="6" dy="-3">3</tspan><tspan dy="3">)</tspan></text>
<text transform="translate(427.3,105.5) rotate(-90)" font-size="9" fill="#1a1a1a" stroke="#1a1a1a" stroke-width="0.25" text-anchor="middle" textLength="82" lengthAdjust="spacingAndGlyphs">Mean of fluorescence (×10<tspan font-size="6" dy="-3">3</tspan><tspan dy="3">)</tspan></text>
<text x="422.6" y="226.2" font-size="9" text-anchor="middle" font-weight="normal" fill="#1a1a1a" textLength="86" lengthAdjust="spacingAndGlyphs" stroke="#1a1a1a" stroke-width="0.3">Days after beginning treament</text>
<line x1="381.5" y1="239" x2="389.5" y2="239" stroke="#b01c3a" stroke-width="1"/>
<circle cx="385.5" cy="239" r="1.3" fill="#b01c3a"/>
<text x="393" y="240.9" font-size="6.8" text-anchor="start" font-weight="normal" fill="#222" textLength="25.5" lengthAdjust="spacingAndGlyphs" >patient 1</text>
<line x1="425.8" y1="239" x2="433.8" y2="239" stroke="#b01c3a" stroke-width="1"/>
<circle cx="429.8" cy="239" r="1.5" fill="#b01c3a"/>
<text x="437.3" y="240.9" font-size="6.8" text-anchor="start" font-weight="normal" fill="#222" textLength="25.5" lengthAdjust="spacingAndGlyphs" >patient 2</text>
<text x="437.3" y="278.8" font-size="9.2" text-anchor="middle" font-weight="normal" fill="#222" textLength="81.5" lengthAdjust="spacingAndGlyphs" >aCD20-coated RAJI</text>
<line x1="379" y1="283.7" x2="379" y2="402.8" stroke="#333" stroke-width="1.1"/>
<line x1="378.5" y1="402.2" x2="490.5" y2="402.2" stroke="#333" stroke-width="1.1"/>
<line x1="375.5" y1="402.20" x2="379" y2="402.20" stroke="#333" stroke-width="0.9"/>
<text x="372.2" y="404.59999999999997" font-size="6.7" text-anchor="end" font-weight="normal" fill="#2a2a2a" >0</text>
<line x1="375.5" y1="379.08" x2="379" y2="379.08" stroke="#333" stroke-width="0.9"/>
<text x="372.2" y="381.47999999999996" font-size="6.7" text-anchor="end" font-weight="normal" fill="#2a2a2a" >20</text>
<line x1="375.5" y1="355.96" x2="379" y2="355.96" stroke="#333" stroke-width="0.9"/>
<text x="372.2" y="358.35999999999996" font-size="6.7" text-anchor="end" font-weight="normal" fill="#2a2a2a" >40</text>
<line x1="375.5" y1="332.84" x2="379" y2="332.84" stroke="#333" stroke-width="0.9"/>
<text x="372.2" y="335.24" font-size="6.7" text-anchor="end" font-weight="normal" fill="#2a2a2a" >60</text>
<line x1="375.5" y1="309.72" x2="379" y2="309.72" stroke="#333" stroke-width="0.9"/>
<text x="372.2" y="312.12" font-size="6.7" text-anchor="end" font-weight="normal" fill="#2a2a2a" >80</text>
<line x1="375.5" y1="286.60" x2="379" y2="286.60" stroke="#333" stroke-width="0.9"/>
<text x="372.2" y="289.0" font-size="6.7" text-anchor="end" font-weight="normal" fill="#2a2a2a" >100</text>
<line x1="412" y1="402.2" x2="412" y2="405.4" stroke="#333" stroke-width="0.9"/>
<line x1="461.5" y1="402.2" x2="461.5" y2="405.4" stroke="#333" stroke-width="0.9"/>
<path d="M412.00,381.39 L461.50,330.53" fill="none" stroke="#b01c3a" stroke-width="1.2"/>
<rect x="410.00" y="379.39" width="4.0" height="4.0" fill="#b01c3a"/>
<rect x="459.50" y="328.53" width="4.0" height="4.0" fill="#b01c3a"/>
<path d="M412.00,392.95 L461.50,317.81" fill="none" stroke="#b01c3a" stroke-width="1.2"/>
<rect x="410.00" y="390.95" width="4.0" height="4.0" fill="#b01c3a"/>
<rect x="459.50" y="315.81" width="4.0" height="4.0" fill="#b01c3a"/>
<text x="411.5" y="415" font-size="6.8" text-anchor="middle" font-weight="normal" fill="#222" textLength="29" lengthAdjust="spacingAndGlyphs" >Pre Day 1</text>
<text x="461" y="415" font-size="6.8" text-anchor="middle" font-weight="normal" fill="#222" textLength="33" lengthAdjust="spacingAndGlyphs" >Post Day 5</text>
<text x="349.8" y="415" font-size="6.8" text-anchor="start" font-weight="normal" fill="#222" textLength="29.6" lengthAdjust="spacingAndGlyphs" >Treament:</text>
<text transform="translate(354.6,342.5) rotate(-90)" font-size="8.6" fill="#222" text-anchor="middle" textLength="22" lengthAdjust="spacingAndGlyphs" stroke="#222" stroke-width="0.25">Lysis %</text>
<line x1="395.4" y1="426.4" x2="403.9" y2="426.4" stroke="#b01c3a" stroke-width="1"/>
<circle cx="399.59999999999997" cy="426.4" r="1.3" fill="#b01c3a"/>
<text x="407" y="428.8" font-size="6.6" text-anchor="start" font-weight="normal" fill="#222" textLength="25.5" lengthAdjust="spacingAndGlyphs" >patient 1</text>
<line x1="440" y1="426.4" x2="448.5" y2="426.4" stroke="#b01c3a" stroke-width="1"/>
<rect x="442.7" y="424.9" width="3" height="3" fill="#b01c3a"/>
<text x="451.4" y="428.8" font-size="6.6" text-anchor="start" font-weight="normal" fill="#222" textLength="25.5" lengthAdjust="spacingAndGlyphs" >patient 2</text>
</svg></body></html>
